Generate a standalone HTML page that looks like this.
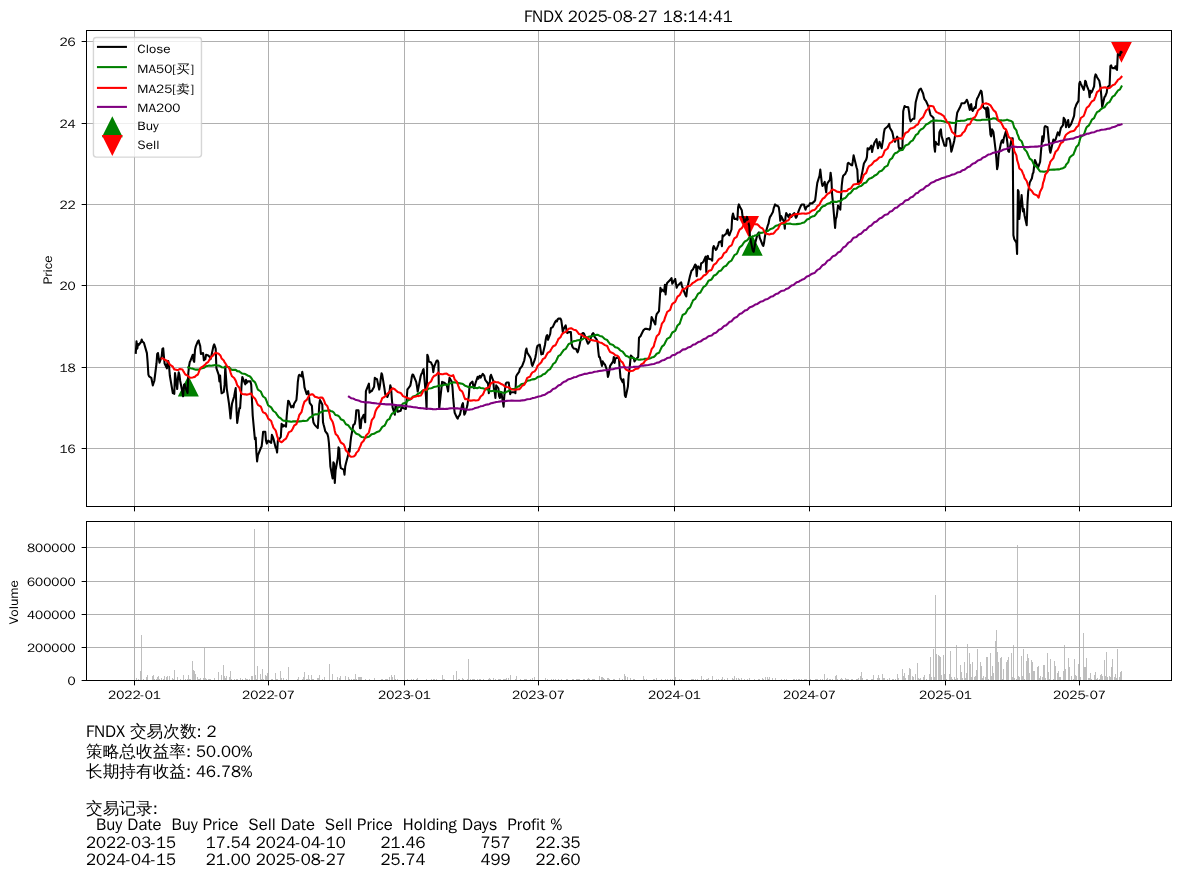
<!DOCTYPE html>
<html><head><meta charset="utf-8"><title>FNDX</title><style>html,body{margin:0;padding:0;background:#fff;overflow:hidden;width:1180px;height:878px}svg{display:block}</style></head><body>
<svg width="1180" height="878" viewBox="0 0 1180 878">
<rect width="1180" height="878" fill="#fff"/>
<defs><clipPath id="c1"><rect x="86.50" y="30.50" width="1085.00" height="476.00"/></clipPath><clipPath id="c2"><rect x="86.50" y="521.50" width="1085.00" height="159.00"/></clipPath></defs>
<g clip-path="url(#c1)">
<path fill="#008000" d="M188.32 375.52L177.82 396.52L198.82 396.52ZM752.20 234.70L741.70 255.70L762.70 255.70Z"/>
<path fill="#ff0000" d="M748.50 236.98L738.00 215.98L759.00 215.98ZM1121.46 62.78L1110.96 41.78L1131.96 41.78Z"/>
<path stroke="#b0b0b0" stroke-width="1" fill="none" d="M134.50 30.50V506.50M268.50 30.50V506.50M404.50 30.50V506.50M538.50 30.50V506.50M674.50 30.50V506.50M809.50 30.50V506.50M945.50 30.50V506.50M1079.50 30.50V506.50M86.50 448.50H1171.50M86.50 367.50H1171.50M86.50 285.50H1171.50M86.50 204.50H1171.50M86.50 123.50H1171.50M86.50 41.50H1171.50"/>
<polyline fill="none" stroke="#000000" stroke-width="2.08" stroke-linejoin="round" stroke-linecap="square" points="135.8,352.8 136.5,341.4 137.3,348.7 138.0,344.1 138.7,345.0 141.0,342.0 141.7,339.6 142.4,341.6 143.2,342.2 143.9,342.8 146.9,353.1 147.6,361.9 148.4,374.7 149.1,376.3 151.3,377.8 152.1,381.8 152.8,385.4 153.5,383.2 154.3,381.0 156.5,363.5 157.2,353.9 158.0,353.1 158.7,357.9 159.5,362.7 161.7,356.3 162.4,349.1 163.2,348.3 163.9,356.3 164.6,363.5 166.9,368.3 167.6,361.1 168.3,361.1 169.1,366.7 169.8,375.5 172.8,393.0 173.5,393.4 174.3,393.8 175.0,373.1 177.2,389.0 178.0,377.8 178.7,372.3 179.4,374.7 180.2,381.0 182.4,392.2 183.1,396.2 183.9,385.0 184.6,384.2 185.4,387.4 187.6,393.0 188.3,373.1 189.1,365.9 189.8,361.9 190.5,360.7 192.8,354.7 193.5,360.3 194.2,361.9 195.0,349.9 195.7,346.7 197.9,341.2 198.7,340.4 199.4,343.6 200.2,345.9 200.9,353.9 203.1,353.1 203.9,360.3 204.6,359.5 205.3,359.2 206.1,354.8 208.3,355.5 209.0,356.2 209.8,357.0 210.5,359.2 211.3,356.2 213.5,345.9 214.2,344.4 215.0,346.6 215.7,348.8 216.4,368.1 218.7,374.8 219.4,381.4 220.1,375.5 220.9,387.3 221.6,393.3 223.8,391.8 224.6,384.4 225.3,366.6 226.1,378.5 226.8,388.8 229.0,403.6 229.8,411.0 230.5,418.4 231.2,411.0 232.0,403.6 234.2,396.2 234.9,392.2 235.7,388.1 236.4,408.1 237.2,422.9 239.4,408.1 240.1,408.1 240.9,396.2 241.6,384.4 242.3,377.0 245.3,384.4 246.0,379.9 246.8,382.9 247.5,381.4 249.7,381.4 250.5,381.4 251.2,384.4 252.0,400.7 252.7,415.5 254.9,439.2 255.7,437.7 256.4,452.5 257.1,461.4 257.9,455.4 260.8,448.0 261.6,446.6 262.3,440.6 263.1,431.8 265.3,431.8 266.0,440.6 266.8,443.6 267.5,442.1 268.2,440.6 271.2,442.9 271.9,434.8 272.7,436.6 273.4,438.5 275.6,447.4 276.4,448.8 277.1,452.5 277.9,440.0 278.6,440.0 280.8,437.0 281.6,423.7 282.3,425.1 283.0,426.6 283.8,425.1 286.0,426.6 286.7,416.3 287.5,407.4 288.2,400.7 289.0,401.5 291.2,407.4 291.9,406.6 292.7,405.9 293.4,407.4 294.1,403.7 296.4,400.0 297.1,392.6 297.8,382.2 298.6,376.3 299.3,374.8 301.5,376.3 302.3,371.8 303.0,376.3 303.8,380.7 304.5,387.4 306.7,394.1 307.5,392.6 308.2,391.1 308.9,395.5 309.7,402.9 311.9,405.9 312.6,416.3 313.4,422.2 314.1,423.7 314.9,425.1 317.8,428.1 318.6,416.3 319.3,404.4 320.0,400.0 322.3,404.4 323.0,422.2 323.7,425.1 324.5,428.1 325.2,431.1 327.4,434.0 328.2,437.0 328.9,442.9 329.7,454.8 330.4,466.6 332.6,478.4 333.4,462.2 334.1,463.6 334.8,482.9 335.6,470.3 337.8,457.7 338.5,447.4 339.3,448.8 340.0,463.6 340.8,468.1 343.7,469.6 344.5,474.7 345.2,466.6 345.9,463.6 348.2,454.8 348.9,448.8 349.6,451.8 350.4,442.9 351.1,437.0 353.3,425.1 354.1,424.4 354.8,423.7 355.6,419.2 356.3,410.3 358.5,410.3 359.3,419.2 360.0,428.1 360.7,428.1 361.5,419.2 363.7,414.8 364.4,418.5 365.2,422.2 365.9,391.1 368.9,383.7 369.6,392.6 370.4,391.8 371.1,391.1 371.8,391.1 374.1,386.7 374.8,377.8 375.5,378.5 377.0,379.2 379.2,389.6 380.0,385.2 380.7,379.2 381.5,373.3 382.2,374.8 384.4,388.1 385.2,394.1 385.9,395.5 386.6,396.3 387.4,397.0 389.6,391.1 390.3,385.2 391.1,388.1 391.8,398.5 392.6,407.4 394.8,414.8 395.5,405.9 396.3,406.6 397.0,407.4 397.7,411.8 400.7,410.8 401.4,407.9 402.2,407.0 402.9,407.9 405.9,408.9 406.6,400.2 407.4,389.5 408.1,388.6 410.3,385.7 411.1,381.8 411.8,376.9 412.5,374.5 413.3,375.0 416.2,381.8 417.0,386.6 417.7,391.5 418.5,387.6 420.7,376.0 421.4,374.0 422.2,373.1 422.9,370.2 423.6,369.2 425.9,395.3 426.6,408.9 427.3,354.7 428.1,356.6 428.8,361.5 431.0,362.4 431.8,364.4 432.5,365.3 433.3,372.1 434.0,367.3 436.2,361.5 437.0,360.5 437.7,360.5 438.4,362.4 439.2,408.9 442.1,381.8 442.9,382.8 443.6,382.3 444.4,382.8 446.6,384.7 447.3,387.6 448.1,391.5 448.8,383.7 449.5,377.9 451.8,381.8 452.5,387.6 453.2,398.2 454.0,407.0 454.7,412.8 456.9,417.6 457.7,418.6 458.4,416.6 459.2,415.7 459.9,414.7 462.1,405.0 462.9,403.1 463.6,408.9 464.3,414.7 465.1,413.5 467.3,405.8 468.0,400.9 468.8,396.1 469.5,386.4 470.3,383.5 472.5,381.6 473.2,385.4 474.0,388.3 474.7,385.9 475.4,383.5 477.7,376.7 478.4,378.7 479.1,376.7 479.9,375.8 480.6,377.7 482.8,373.8 483.6,374.8 484.3,375.8 485.1,379.6 485.8,380.6 488.0,383.5 488.8,393.2 489.5,386.4 490.2,376.7 491.0,374.8 493.2,380.6 493.9,388.3 494.7,392.2 495.4,398.0 496.2,385.4 498.4,388.3 499.1,396.1 499.9,398.0 500.6,396.1 501.3,392.2 503.6,406.7 504.3,396.1 505.0,389.3 505.8,383.5 506.5,382.5 508.7,382.5 509.5,388.3 510.2,394.1 511.0,392.2 511.7,392.2 514.7,392.2 515.4,393.2 516.1,376.7 516.9,374.8 519.1,371.9 519.8,369.0 520.6,368.0 521.3,367.0 522.1,366.1 524.3,360.3 525.0,356.4 525.8,350.6 526.5,348.6 527.2,352.5 530.2,357.4 530.9,359.2 531.7,364.1 532.4,366.0 534.6,360.2 535.4,357.3 536.1,353.4 536.9,347.6 537.6,345.7 539.8,344.7 541.3,354.4 542.0,354.1 542.8,353.9 545.0,344.7 545.7,339.8 546.5,336.0 547.2,335.0 548.0,339.8 550.2,334.0 550.9,328.2 551.7,327.7 552.4,327.3 553.1,326.3 555.4,321.5 556.1,320.5 556.8,321.5 557.6,319.5 558.3,318.6 560.5,318.6 561.3,320.5 562.0,325.3 562.8,332.1 563.5,329.2 565.7,325.3 566.5,330.2 567.2,333.1 567.9,332.6 568.7,332.1 570.9,332.1 571.6,343.7 572.4,346.6 573.1,347.6 573.9,348.6 576.1,349.0 576.8,350.7 577.6,352.4 578.3,350.5 579.0,347.6 581.3,336.9 582.0,334.0 582.7,333.1 583.5,333.1 584.2,334.0 587.2,341.8 587.9,343.7 588.7,342.8 589.4,341.8 591.6,336.0 592.4,334.0 593.1,333.1 593.8,334.0 594.6,336.9 596.8,339.6 597.5,342.2 598.3,351.1 599.0,357.0 599.8,357.0 602.0,365.9 602.7,361.4 603.5,362.9 604.2,363.7 604.9,364.4 607.2,370.7 607.9,377.0 608.6,374.8 609.4,370.3 610.1,365.9 613.1,361.4 613.8,357.0 614.6,362.9 615.3,358.5 617.5,357.7 618.3,357.0 619.0,358.5 619.7,368.8 620.5,377.7 622.7,382.2 623.4,379.2 624.2,386.6 624.9,395.5 625.7,397.0 627.9,386.6 628.6,376.2 629.4,369.6 630.1,362.9 630.8,355.5 633.1,357.7 633.8,358.5 634.5,361.4 635.3,360.0 638.2,357.0 639.0,337.7 639.7,337.0 640.5,336.3 641.2,334.8 643.4,330.3 644.2,329.6 644.9,328.9 646.4,328.9 648.6,329.2 649.3,329.6 650.1,328.9 650.8,324.4 651.6,317.0 653.8,321.5 654.5,322.9 655.3,324.4 656.0,317.0 656.7,314.1 659.0,311.1 659.7,300.3 660.4,287.7 661.2,291.6 661.9,289.6 664.1,291.6 664.9,284.8 665.6,294.5 666.4,285.8 667.1,282.9 670.1,280.0 670.8,279.0 671.5,278.0 672.3,283.8 675.2,279.0 676.0,283.8 676.7,287.7 677.5,285.8 679.7,283.8 680.4,282.9 681.2,282.4 681.9,285.8 682.6,287.7 685.6,295.4 686.3,296.4 687.1,289.6 687.8,285.8 690.0,276.1 690.8,273.2 691.5,270.8 692.3,270.0 693.0,269.3 695.2,264.5 696.0,265.4 696.7,276.1 697.4,268.3 698.2,266.4 700.4,269.3 701.1,263.5 701.9,263.0 702.6,262.5 703.4,261.6 705.6,256.7 706.3,272.2 707.1,256.7 707.8,255.8 708.5,258.7 711.5,259.6 712.2,260.6 713.0,248.0 713.7,246.1 715.9,249.9 716.7,249.0 717.4,247.0 718.2,245.1 718.9,242.2 721.1,241.2 721.9,246.1 722.6,235.4 723.3,236.4 724.1,235.4 726.3,233.4 727.0,230.5 727.8,229.5 728.5,234.4 729.3,235.3 731.5,229.5 732.2,216.9 733.0,213.6 733.7,216.2 734.4,218.9 736.7,218.9 737.4,219.8 738.1,207.3 738.9,204.4 739.6,206.3 741.8,210.2 742.6,216.9 743.3,216.9 744.1,220.8 744.8,222.8 747.0,216.9 747.8,219.8 748.5,223.7 749.2,225.7 750.0,237.3 752.2,247.9 752.9,250.8 753.7,251.8 754.4,247.9 755.2,243.1 757.4,234.4 758.1,233.4 758.9,232.4 759.6,237.3 760.3,239.2 762.6,245.0 763.3,246.0 764.0,243.1 764.8,237.3 765.5,233.4 767.7,225.7 768.5,223.7 769.2,219.8 770.0,216.9 770.7,216.0 772.9,212.1 773.7,208.2 774.4,206.3 775.1,204.4 775.9,205.3 778.1,206.3 778.8,207.3 779.6,213.1 780.3,220.8 781.1,216.0 784.0,221.8 784.8,228.6 785.5,216.9 786.2,213.1 788.5,216.9 789.2,215.0 789.9,214.0 790.7,215.7 791.4,216.8 793.6,213.7 794.4,213.2 795.1,215.7 795.9,217.8 796.6,216.8 798.8,210.6 799.6,208.6 801.0,205.5 801.8,204.5 804.0,204.5 804.7,207.5 805.5,209.6 806.2,207.5 807.0,206.5 809.2,205.5 809.9,203.4 810.7,203.4 812.1,203.4 814.4,201.4 815.1,200.4 815.8,195.2 816.6,188.1 817.3,182.9 819.5,175.8 820.3,169.6 821.0,175.8 821.8,182.9 822.5,186.0 824.7,181.9 825.5,188.1 826.2,192.2 826.9,185.0 827.7,182.9 829.9,179.9 830.6,172.7 831.4,178.8 832.1,194.2 832.9,202.4 835.1,228.0 835.8,218.8 836.6,216.8 837.3,211.6 838.0,205.5 840.3,209.6 841.0,198.3 841.7,186.0 842.5,178.8 843.2,175.8 845.4,173.7 846.2,171.7 846.9,170.6 847.7,163.5 848.4,162.9 850.6,164.5 851.4,165.0 852.1,165.5 852.8,161.4 853.6,155.3 856.5,167.3 857.3,169.8 858.0,182.6 858.8,183.9 861.0,178.8 861.7,175.0 862.5,171.1 863.2,167.3 863.9,163.5 866.2,159.6 866.9,157.1 867.6,148.2 868.4,148.8 869.1,149.4 871.3,145.6 872.1,152.0 872.8,148.2 873.6,145.6 874.3,143.1 876.5,139.2 877.3,144.3 878.0,148.2 878.7,145.6 879.5,141.8 881.7,148.2 882.4,143.7 883.2,139.2 883.9,132.9 884.7,129.0 887.6,126.5 888.4,125.2 889.1,123.9 889.8,127.8 892.1,131.6 892.8,134.1 893.5,138.0 894.3,139.9 895.0,141.8 897.2,136.7 898.0,138.0 898.7,146.9 899.5,149.4 900.2,148.2 902.4,149.4 903.2,111.2 903.9,108.6 904.6,106.1 905.4,106.7 908.3,107.3 909.1,112.4 909.8,118.8 910.6,121.4 912.8,118.8 913.5,118.8 914.3,118.8 915.0,109.9 915.7,102.2 918.0,93.3 918.7,91.5 919.4,89.6 920.9,88.6 923.1,93.5 923.9,97.4 924.6,99.3 925.4,100.3 926.1,101.2 928.3,106.1 929.1,109.0 929.8,111.9 930.5,114.8 931.3,115.8 933.5,117.7 934.2,145.8 935.0,151.6 935.7,141.9 936.5,143.8 938.7,144.8 939.4,132.2 940.9,129.3 941.6,136.1 943.9,143.8 944.6,145.8 946.1,145.8 946.8,139.0 949.0,138.0 949.8,140.0 950.5,143.8 951.3,151.6 952.0,149.6 954.2,140.9 955.0,136.1 955.7,126.4 956.4,118.7 957.2,112.8 960.1,107.0 960.9,105.1 961.6,103.2 962.4,103.2 964.6,103.2 965.3,102.2 966.1,101.2 966.8,99.8 967.5,101.2 969.8,109.9 970.5,105.1 971.2,104.1 972.0,109.9 972.7,110.9 974.9,107.0 975.7,108.0 976.4,101.2 977.2,98.3 977.9,97.4 980.9,90.6 981.6,91.6 982.3,97.4 983.1,107.0 985.3,109.1 986.0,108.2 986.8,117.3 987.5,107.3 988.3,109.1 990.5,134.6 991.2,136.4 992.0,129.2 992.7,130.5 993.4,131.9 995.7,151.0 996.4,159.2 997.1,169.2 997.9,165.6 998.6,154.7 1000.8,143.7 1001.6,141.0 1002.3,140.1 1003.1,142.8 1003.8,138.3 1006.0,131.0 1006.8,138.3 1007.5,143.7 1008.2,151.0 1009.0,151.9 1011.2,141.0 1011.9,138.3 1012.7,138.3 1013.4,235.2 1014.2,239.0 1016.4,242.7 1017.1,254.0 1017.9,190.1 1018.6,191.4 1019.3,218.9 1021.6,195.1 1022.3,202.6 1023.0,211.4 1023.8,208.9 1024.5,215.2 1026.7,225.2 1027.5,202.6 1028.2,191.4 1029.0,187.0 1029.7,182.6 1031.9,178.2 1032.7,173.8 1033.4,172.6 1034.1,166.3 1034.9,160.0 1037.1,165.1 1037.8,168.2 1038.6,166.1 1039.3,164.1 1040.1,162.0 1042.3,136.4 1043.0,141.5 1043.8,137.4 1044.5,127.2 1045.2,126.1 1047.5,127.2 1048.2,134.3 1048.9,141.5 1049.7,149.7 1050.4,152.8 1053.4,139.5 1054.1,141.5 1054.9,140.5 1055.6,139.5 1057.8,132.3 1058.6,133.3 1059.3,135.4 1060.0,131.8 1060.8,128.2 1063.0,125.1 1063.7,117.9 1064.5,119.0 1065.2,120.0 1066.0,127.2 1068.2,120.0 1068.9,127.2 1069.7,126.1 1071.1,124.1 1073.4,117.9 1074.1,115.9 1074.8,108.7 1075.6,106.7 1076.3,104.6 1078.5,100.9 1079.3,83.6 1080.0,81.7 1080.8,83.6 1083.7,89.9 1084.5,86.3 1085.2,80.8 1085.9,81.7 1086.7,85.4 1088.9,90.8 1089.6,97.2 1090.4,90.8 1091.1,92.7 1091.9,91.8 1094.1,86.3 1094.8,77.2 1095.6,74.4 1096.3,75.4 1097.0,77.2 1099.3,80.8 1100.0,84.5 1100.7,89.0 1101.5,98.1 1102.2,107.2 1104.4,97.2 1105.2,96.3 1105.9,94.5 1106.7,92.7 1107.4,87.2 1109.6,85.4 1110.4,66.2 1111.1,65.3 1111.8,67.2 1112.6,68.1 1114.8,68.1 1115.5,66.2 1116.3,69.0 1117.0,69.9 1117.8,54.4 1120.0,55.3 1120.7,51.7 1121.5,52.3"/>
<polyline fill="none" stroke="#008000" stroke-width="2.08" stroke-linejoin="round" stroke-linecap="square" points="188.3,367.4 189.1,367.7 189.8,368.1 190.5,368.3 192.8,368.6 193.5,368.9 194.2,369.3 195.0,369.5 195.7,369.6 197.9,369.6 198.7,369.5 199.4,369.3 200.2,369.0 200.9,368.6 203.1,368.1 203.9,367.8 204.6,367.3 205.3,366.8 206.1,366.2 208.3,365.7 209.0,365.6 209.8,365.6 210.5,365.8 211.3,365.7 213.5,365.4 214.2,365.2 215.0,365.1 215.7,365.1 216.4,365.3 218.7,365.6 219.4,365.8 220.1,366.1 220.9,366.6 221.6,367.2 223.8,367.5 224.6,367.3 225.3,366.8 226.1,366.5 226.8,366.8 229.0,367.1 229.8,367.8 230.5,368.7 231.2,369.4 232.0,369.9 234.2,369.9 234.9,369.9 235.7,369.9 236.4,370.4 237.2,371.1 239.4,371.4 240.1,372.1 240.9,372.7 241.6,373.2 242.3,373.5 245.3,374.1 246.0,374.5 246.8,374.9 247.5,375.5 249.7,376.2 250.5,377.0 251.2,377.9 252.0,379.1 252.7,380.4 254.9,382.1 255.7,383.8 256.4,385.7 257.1,387.7 257.9,389.6 260.8,391.5 261.6,393.3 262.3,395.0 263.1,396.5 265.3,398.0 266.0,399.7 266.8,401.6 267.5,403.6 268.2,405.4 271.2,407.3 271.9,408.7 272.7,409.9 273.4,411.0 275.6,412.5 276.4,413.7 277.1,414.9 277.9,415.9 278.6,417.0 280.8,418.4 281.6,419.3 282.3,420.0 283.0,420.5 283.8,420.7 286.0,420.9 286.7,421.0 287.5,421.1 288.2,421.2 289.0,421.4 291.2,421.7 291.9,421.7 292.7,421.4 293.4,421.4 294.1,421.3 296.4,421.4 297.1,421.5 297.8,421.6 298.6,421.5 299.3,421.4 301.5,421.2 302.3,421.0 303.0,420.9 303.8,420.9 304.5,421.0 306.7,420.8 307.5,420.4 308.2,419.4 308.9,418.6 309.7,417.6 311.9,416.5 312.6,415.7 313.4,415.2 314.1,414.7 314.9,414.4 317.8,414.3 318.6,414.0 319.3,413.3 320.0,412.4 322.3,411.7 323.0,411.3 323.7,411.0 324.5,410.8 325.2,410.7 327.4,410.6 328.2,410.4 328.9,410.3 329.7,410.3 330.4,410.9 332.6,411.6 333.4,412.1 334.1,412.9 334.8,414.1 335.6,415.0 337.8,415.6 338.5,416.0 339.3,416.7 340.0,417.8 340.8,419.2 343.7,420.5 344.5,421.9 345.2,423.1 345.9,424.2 348.2,425.2 348.9,426.1 349.6,427.1 350.4,428.1 351.1,429.2 353.3,430.2 354.1,431.2 354.8,432.1 355.6,433.1 356.3,433.8 358.5,434.4 359.3,435.0 360.0,435.7 360.7,436.4 361.5,436.9 363.7,437.3 364.4,437.6 365.2,438.0 365.9,437.5 368.9,436.7 369.6,436.1 370.4,435.4 371.1,434.7 371.8,434.2 374.1,433.8 374.8,433.4 375.5,432.8 377.0,432.0 379.2,431.3 380.0,430.4 380.7,429.4 381.5,428.2 382.2,426.9 384.4,425.8 385.2,424.6 385.9,423.2 386.6,421.5 387.4,420.2 389.6,418.8 390.3,416.8 391.1,415.2 391.8,414.0 392.6,413.2 394.8,412.5 395.5,411.4 396.3,410.1 397.0,408.9 397.7,407.6 400.7,406.5 401.4,405.4 402.2,404.5 402.9,403.6 405.9,402.8 406.6,401.9 407.4,401.0 408.1,400.2 410.3,399.5 411.1,398.6 411.8,397.8 412.5,397.1 413.3,396.4 416.2,395.6 417.0,394.8 417.7,394.1 418.5,393.4 420.7,392.6 421.4,391.8 422.2,390.8 422.9,390.4 423.6,390.1 425.9,390.1 426.6,390.5 427.3,389.7 428.1,389.0 428.8,388.5 431.0,388.2 431.8,388.0 432.5,387.7 433.3,387.3 434.0,387.0 436.2,386.6 437.0,386.4 437.7,386.1 438.4,385.6 439.2,385.8 442.1,385.6 442.9,385.3 443.6,385.0 444.4,384.8 446.6,384.8 447.3,384.8 448.1,384.7 448.8,384.2 449.5,383.5 451.8,383.0 452.5,382.6 453.2,382.4 454.0,382.3 454.7,382.4 456.9,382.6 457.7,382.8 458.4,383.0 459.2,383.1 459.9,383.4 462.1,383.7 462.9,384.0 463.6,384.5 464.3,385.1 465.1,385.8 467.3,386.5 468.0,387.0 468.8,387.3 469.5,387.3 470.3,387.1 472.5,387.0 473.2,387.2 474.0,387.5 474.7,387.7 475.4,388.0 477.7,388.1 478.4,387.8 479.1,387.2 479.9,387.6 480.6,388.0 482.8,388.3 483.6,388.5 484.3,388.7 485.1,389.0 485.8,389.2 488.0,389.5 488.8,390.1 489.5,390.7 490.2,391.0 491.0,391.2 493.2,390.7 493.9,390.8 494.7,391.0 495.4,391.3 496.2,391.4 498.4,391.4 499.1,391.6 499.9,391.7 500.6,392.0 501.3,392.3 503.6,392.8 504.3,392.9 505.0,392.8 505.8,392.3 506.5,391.7 508.7,391.0 509.5,390.4 510.2,389.9 511.0,389.5 511.7,389.0 514.7,388.7 515.4,388.6 516.1,387.9 516.9,387.1 519.1,386.3 519.8,385.5 520.6,384.9 521.3,384.3 522.1,383.9 524.3,383.4 525.0,382.9 525.8,382.2 526.5,381.4 527.2,380.8 530.2,380.2 530.9,379.9 531.7,379.6 532.4,379.4 534.6,379.1 535.4,378.7 536.1,378.3 536.9,377.7 537.6,377.1 539.8,376.4 541.3,375.9 542.0,375.3 542.8,374.5 545.0,373.7 545.7,372.9 546.5,372.2 547.2,371.3 548.0,370.3 550.2,369.1 550.9,367.7 551.7,366.6 552.4,365.4 553.1,364.0 555.4,362.4 556.1,360.9 556.8,359.5 557.6,357.8 558.3,356.2 560.5,354.8 561.3,353.5 562.0,352.4 562.8,351.4 563.5,350.2 565.7,348.8 566.5,347.6 567.2,346.4 567.9,345.2 568.7,344.0 570.9,343.1 571.6,342.5 572.4,342.0 573.1,341.5 573.9,341.1 576.1,340.8 576.8,340.5 577.6,340.3 578.3,340.2 579.0,340.1 581.3,339.9 582.0,339.5 582.7,339.1 583.5,338.5 584.2,337.9 587.2,337.4 587.9,337.1 588.7,336.8 589.4,336.6 591.6,336.4 592.4,336.1 593.1,335.9 593.8,335.5 594.6,335.2 596.8,334.9 597.5,334.8 598.3,335.0 599.0,335.5 599.8,335.9 602.0,336.4 602.7,337.0 603.5,337.7 604.2,338.4 604.9,339.1 607.2,340.0 607.9,341.1 608.6,342.2 609.4,343.2 610.1,344.1 613.1,345.0 613.8,345.7 614.6,346.6 615.3,347.2 617.5,347.8 618.3,348.3 619.0,349.0 619.7,349.8 620.5,350.6 622.7,351.6 623.4,352.6 624.2,353.7 624.9,354.7 625.7,355.7 627.9,356.5 628.6,357.0 629.4,357.5 630.1,357.7 630.8,357.8 633.1,357.9 633.8,358.1 634.5,358.6 635.3,359.1 638.2,359.6 639.0,359.7 639.7,359.8 640.5,359.6 641.2,359.5 643.4,359.2 644.2,359.0 644.9,358.8 646.4,358.7 648.6,358.7 649.3,358.6 650.1,358.4 650.8,358.1 651.6,357.6 653.8,357.0 654.5,356.3 655.3,355.7 656.0,354.7 656.7,353.7 659.0,352.7 659.7,351.4 660.4,349.9 661.2,348.3 661.9,346.6 664.1,344.9 664.9,343.2 665.6,341.8 666.4,340.3 667.1,338.8 670.1,337.1 670.8,335.5 671.5,333.9 672.3,332.5 675.2,330.9 676.0,329.2 676.7,327.4 677.5,325.5 679.7,323.6 680.4,321.5 681.2,319.2 681.9,317.0 682.6,315.0 685.6,313.4 686.3,311.9 687.1,310.5 687.8,309.1 690.0,307.4 690.8,305.7 691.5,303.9 692.3,302.1 693.0,300.4 695.2,298.9 696.0,297.5 696.7,296.3 697.4,294.9 698.2,293.7 700.4,292.5 701.1,291.1 701.9,289.8 702.6,288.5 703.4,287.1 705.6,285.7 706.3,284.6 707.1,283.4 707.8,282.1 708.5,280.8 711.5,279.5 712.2,278.4 713.0,277.1 713.7,275.8 715.9,274.8 716.7,274.0 717.4,273.1 718.2,272.2 718.9,271.2 721.1,270.4 721.9,269.4 722.6,268.4 723.3,267.5 724.1,266.6 726.3,265.7 727.0,264.7 727.8,263.6 728.5,262.7 729.3,261.8 731.5,260.6 732.2,259.2 733.0,257.8 733.7,256.5 734.4,255.2 736.7,253.9 737.4,252.5 738.1,250.8 738.9,248.9 739.6,247.3 741.8,245.7 742.6,244.6 743.3,243.4 744.1,242.4 744.8,241.5 747.0,240.4 747.8,239.6 748.5,238.7 749.2,237.7 750.0,237.1 752.2,236.7 752.9,236.4 753.7,236.1 754.4,235.8 755.2,235.4 757.4,234.9 758.1,234.4 758.9,233.6 759.6,233.2 760.3,232.9 762.6,232.6 763.3,232.4 764.0,232.0 764.8,231.8 765.5,231.5 767.7,231.1 768.5,230.5 769.2,230.0 770.0,229.4 770.7,228.9 772.9,228.3 773.7,227.6 774.4,227.0 775.1,226.4 775.9,225.8 778.1,225.2 778.8,224.7 779.6,224.4 780.3,224.1 781.1,223.8 784.0,223.6 784.8,223.8 785.5,223.9 786.2,223.8 788.5,223.8 789.2,223.7 789.9,223.6 790.7,223.8 791.4,224.0 793.6,224.2 794.4,224.2 795.1,224.2 795.9,224.2 796.6,224.1 798.8,223.9 799.6,223.7 801.0,223.4 801.8,223.1 804.0,222.6 804.7,222.0 805.5,221.3 806.2,220.4 807.0,219.5 809.2,218.7 809.9,217.9 810.7,217.2 812.1,216.6 814.4,216.0 815.1,215.3 815.8,214.4 816.6,213.3 817.3,212.0 819.5,210.7 820.3,209.3 821.0,208.1 821.8,207.3 822.5,206.5 824.7,205.8 825.5,205.2 826.2,204.7 826.9,204.2 827.7,203.7 829.9,203.1 830.6,202.5 831.4,202.0 832.1,201.7 832.9,201.6 835.1,201.9 835.8,201.9 836.6,201.9 837.3,201.7 838.0,201.3 840.3,201.1 841.0,200.8 841.7,200.2 842.5,199.5 843.2,198.7 845.4,197.9 846.2,197.0 846.9,196.1 847.7,195.1 848.4,194.0 850.6,193.0 851.4,191.9 852.1,191.0 852.8,190.1 853.6,189.1 856.5,188.4 857.3,187.7 858.0,187.2 858.8,186.6 861.0,186.1 861.7,185.4 862.5,184.8 863.2,184.0 863.9,183.2 866.2,182.4 866.9,181.5 867.6,180.4 868.4,179.5 869.1,178.7 871.3,178.0 872.1,177.5 872.8,177.1 873.6,176.5 874.3,175.7 876.5,174.7 877.3,174.0 878.0,173.2 878.7,172.3 879.5,171.4 881.7,170.7 882.4,170.0 883.2,169.3 883.9,168.4 884.7,167.1 887.6,165.6 888.4,163.5 889.1,161.6 889.8,159.8 892.1,158.2 892.8,156.8 893.5,155.4 894.3,154.2 895.0,153.3 897.2,152.5 898.0,151.7 898.7,151.2 899.5,150.7 900.2,150.3 902.4,150.0 903.2,149.0 903.9,147.9 904.6,146.7 905.4,145.5 908.3,144.4 909.1,143.6 909.8,142.6 910.6,141.6 912.8,140.4 913.5,139.1 914.3,137.9 915.0,136.6 915.7,135.2 918.0,133.7 918.7,132.3 919.4,130.9 920.9,129.5 923.1,128.4 923.9,127.4 924.6,126.4 925.4,125.5 926.1,124.4 928.3,123.6 929.1,122.9 929.8,122.2 930.5,121.8 931.3,121.2 933.5,120.6 934.2,120.6 935.0,120.8 935.7,120.6 936.5,120.6 938.7,120.8 939.4,120.7 940.9,120.8 941.6,120.9 943.9,121.3 944.6,121.8 946.1,122.1 946.8,122.3 949.0,122.3 949.8,122.4 950.5,122.5 951.3,122.7 952.0,122.9 954.2,123.0 955.0,122.8 955.7,122.3 956.4,121.7 957.2,121.0 960.1,120.9 960.9,120.8 961.6,120.8 962.4,120.7 964.6,120.6 965.3,120.4 966.1,120.1 966.8,119.6 967.5,119.3 969.8,119.1 970.5,118.8 971.2,118.7 972.0,118.9 972.7,119.2 974.9,119.5 975.7,119.9 976.4,120.1 977.2,120.2 977.9,120.2 980.9,120.1 981.6,119.9 982.3,119.8 983.1,119.8 985.3,119.8 986.0,119.8 986.8,119.8 987.5,119.6 988.3,119.5 990.5,119.2 991.2,118.9 992.0,118.7 992.7,118.4 993.4,118.2 995.7,118.5 996.4,119.1 997.1,119.8 997.9,120.2 998.6,120.4 1000.8,120.4 1001.6,120.4 1002.3,120.5 1003.1,120.5 1003.8,120.4 1006.0,120.0 1006.8,119.8 1007.5,119.8 1008.2,120.1 1009.0,120.6 1011.2,121.1 1011.9,121.6 1012.7,122.2 1013.4,124.8 1014.2,127.5 1016.4,130.3 1017.1,133.3 1017.9,135.1 1018.6,136.9 1019.3,139.3 1021.6,141.2 1022.3,143.0 1023.0,145.1 1023.8,147.2 1024.5,149.3 1026.7,151.6 1027.5,153.5 1028.2,155.2 1029.0,156.9 1029.7,158.6 1031.9,160.2 1032.7,161.9 1033.4,163.5 1034.1,164.9 1034.9,165.9 1037.1,167.1 1037.8,168.3 1038.6,169.2 1039.3,170.4 1040.1,171.4 1042.3,171.5 1043.0,171.6 1043.8,171.7 1044.5,171.7 1045.2,171.5 1047.5,171.1 1048.2,170.6 1048.9,170.0 1049.7,169.7 1050.4,169.7 1053.4,169.6 1054.1,169.6 1054.9,169.6 1055.6,169.5 1057.8,169.4 1058.6,169.4 1059.3,169.4 1060.0,169.1 1060.8,168.7 1063.0,168.2 1063.7,167.7 1064.5,167.3 1065.2,166.9 1066.0,164.8 1068.2,162.4 1068.9,160.1 1069.7,157.5 1071.1,156.2 1073.4,154.7 1074.1,152.7 1074.8,151.0 1075.6,149.0 1076.3,146.9 1078.5,144.7 1079.3,142.1 1080.0,139.2 1080.8,136.9 1083.7,134.8 1084.5,132.8 1085.2,130.8 1085.9,128.8 1086.7,127.1 1088.9,125.4 1089.6,124.1 1090.4,122.7 1091.1,121.2 1091.9,119.7 1094.1,118.1 1094.8,116.4 1095.6,114.6 1096.3,113.4 1097.0,112.1 1099.3,111.0 1100.0,110.1 1100.7,109.4 1101.5,108.8 1102.2,108.3 1104.4,107.4 1105.2,106.3 1105.9,105.1 1106.7,104.2 1107.4,103.1 1109.6,102.0 1110.4,100.6 1111.1,99.2 1111.8,97.9 1112.6,96.6 1114.8,95.3 1115.5,94.0 1116.3,92.9 1117.0,92.0 1117.8,90.7 1120.0,89.4 1120.7,87.9 1121.5,86.5"/>
<polyline fill="none" stroke="#ff0000" stroke-width="2.08" stroke-linejoin="round" stroke-linecap="square" points="161.7,358.5 162.4,358.4 163.2,358.6 163.9,358.9 164.6,359.7 166.9,360.7 167.6,361.4 168.3,362.3 169.1,363.3 169.8,364.6 172.8,366.6 173.5,368.2 174.3,369.5 175.0,369.4 177.2,370.0 178.0,370.0 178.7,369.6 179.4,369.1 180.2,369.1 182.4,369.5 183.1,370.8 183.9,372.1 184.6,373.3 185.4,374.5 187.6,375.7 188.3,376.4 189.1,377.0 189.8,377.6 190.5,377.8 192.8,377.4 193.5,377.1 194.2,377.1 195.0,376.7 195.7,375.9 197.9,374.5 198.7,372.4 199.4,370.4 200.2,368.5 200.9,367.7 203.1,366.3 203.9,365.6 204.6,365.1 205.3,364.5 206.1,363.4 208.3,361.9 209.0,360.3 209.8,359.2 210.5,358.2 211.3,357.0 213.5,355.1 214.2,353.9 215.0,353.2 215.7,352.6 216.4,352.9 218.7,353.7 219.4,354.6 220.1,355.1 220.9,356.6 221.6,358.5 223.8,360.5 224.6,362.3 225.3,363.2 226.1,364.5 226.8,365.9 229.0,367.9 229.8,369.9 230.5,372.3 231.2,374.4 232.0,376.3 234.2,378.0 234.9,379.4 235.7,380.6 236.4,382.6 237.2,385.3 239.4,387.7 240.1,390.3 240.9,392.3 241.6,393.7 242.3,394.0 245.3,394.4 246.0,394.4 246.8,394.7 247.5,394.4 249.7,394.0 250.5,393.5 251.2,393.5 252.0,394.9 252.7,396.4 254.9,398.4 255.7,399.8 256.4,401.4 257.1,403.1 257.9,404.9 260.8,406.7 261.6,408.7 262.3,410.6 263.1,412.4 265.3,413.3 266.0,414.1 266.8,415.5 267.5,416.8 268.2,418.6 271.2,421.0 271.9,423.3 272.7,425.4 273.4,427.7 275.6,430.3 276.4,433.0 277.1,435.8 277.9,438.2 278.6,440.4 280.8,441.8 281.6,442.2 282.3,441.6 283.0,441.2 283.8,440.1 286.0,438.7 286.7,437.1 287.5,435.5 288.2,433.6 289.0,432.1 291.2,431.1 291.9,430.1 292.7,428.7 293.4,427.3 294.1,425.7 296.4,424.1 297.1,422.1 297.8,420.0 298.6,417.6 299.3,415.0 301.5,412.2 302.3,409.1 303.0,406.0 303.8,403.7 304.5,401.6 306.7,399.9 307.5,398.6 308.2,397.3 308.9,396.0 309.7,395.1 311.9,394.3 312.6,394.3 313.4,394.9 314.1,395.8 314.9,396.7 317.8,397.6 318.6,398.0 319.3,397.9 320.0,397.6 322.3,397.6 323.0,398.5 323.7,399.8 324.5,401.7 325.2,403.9 327.4,406.2 328.2,408.7 328.9,411.5 329.7,414.6 330.4,418.1 332.6,421.7 333.4,424.4 334.1,427.3 334.8,431.0 335.6,433.9 337.8,436.1 338.5,437.8 339.3,439.1 340.0,440.8 340.8,442.5 343.7,444.3 344.5,446.2 345.2,448.2 345.9,450.6 348.2,452.7 348.9,454.5 349.6,455.7 350.4,456.4 351.1,456.8 353.3,456.5 354.1,456.2 354.8,455.6 355.6,454.7 356.3,452.9 358.5,450.6 359.3,448.3 360.0,446.9 360.7,445.5 361.5,442.9 363.7,440.7 364.4,439.2 365.2,438.1 365.9,435.8 368.9,432.6 369.6,429.6 370.4,426.5 371.1,423.2 371.8,420.1 374.1,417.1 374.8,414.0 375.5,411.2 377.0,408.3 379.2,406.1 380.0,404.1 380.7,402.2 381.5,400.2 382.2,398.2 384.4,397.0 385.2,396.3 385.9,395.7 386.6,394.8 387.4,393.6 389.6,392.1 390.3,390.7 391.1,389.7 391.8,388.9 392.6,388.3 394.8,389.2 395.5,390.1 396.3,390.7 397.0,391.3 397.7,392.1 400.7,392.9 401.4,393.8 402.2,394.9 402.9,396.1 405.9,397.3 406.6,397.7 407.4,397.9 408.1,398.3 410.3,398.8 411.1,399.0 411.8,398.6 412.5,397.8 413.3,397.0 416.2,396.4 417.0,396.0 417.7,396.0 418.5,396.1 420.7,395.6 421.4,394.6 422.2,393.3 422.9,391.5 423.6,390.0 425.9,389.6 426.6,389.6 427.3,387.3 428.1,385.2 428.8,383.3 431.0,381.5 431.8,379.8 432.5,378.0 433.3,376.9 434.0,376.0 436.2,375.0 437.0,373.9 437.7,373.1 438.4,372.5 439.2,373.9 442.1,374.2 442.9,374.2 443.6,374.0 444.4,373.7 446.6,373.6 447.3,374.0 448.1,374.7 448.8,375.1 449.5,375.5 451.8,376.0 452.5,375.6 453.2,375.2 454.0,377.3 454.7,379.6 456.9,381.8 457.7,384.1 458.4,386.1 459.2,388.2 459.9,389.9 462.1,391.4 462.9,393.0 463.6,395.0 464.3,397.1 465.1,399.2 467.3,399.1 468.0,399.8 468.8,400.4 469.5,400.5 470.3,400.6 472.5,400.4 473.2,400.3 474.0,400.2 474.7,400.3 475.4,400.5 477.7,400.3 478.4,400.0 479.1,399.1 479.9,397.9 480.6,396.5 482.8,394.7 483.6,393.0 484.3,391.3 485.1,389.9 485.8,388.5 488.0,387.6 488.8,387.3 489.5,386.4 490.2,384.8 491.0,383.3 493.2,382.3 493.9,381.8 494.7,381.6 495.4,382.1 496.2,382.2 498.4,382.4 499.1,382.9 499.9,383.2 500.6,383.7 501.3,384.0 503.6,385.2 504.3,385.9 505.0,386.4 505.8,386.7 506.5,386.9 508.7,387.3 509.5,387.8 510.2,388.5 511.0,389.0 511.7,389.5 514.7,389.8 515.4,389.8 516.1,389.5 516.9,389.4 519.1,389.3 519.8,388.8 520.6,388.0 521.3,387.0 522.1,385.7 524.3,384.7 525.0,383.4 525.8,381.6 526.5,379.6 527.2,377.9 530.2,376.5 530.9,374.6 531.7,373.3 532.4,372.4 534.6,371.4 535.4,370.4 536.1,369.3 536.9,367.6 537.6,365.7 539.8,363.8 541.3,362.3 542.0,360.8 542.8,359.2 545.0,357.9 545.7,356.5 546.5,355.1 547.2,353.7 548.0,352.6 550.2,351.3 550.9,349.8 551.7,348.5 552.4,347.3 553.1,346.3 555.4,345.2 556.1,343.9 556.8,342.5 557.6,340.9 558.3,339.1 560.5,337.2 561.3,335.6 562.0,334.3 562.8,333.5 563.5,332.8 565.7,331.9 566.5,331.4 567.2,330.5 567.9,329.6 568.7,328.8 570.9,328.3 571.6,328.4 572.4,328.9 573.1,329.4 573.9,329.7 576.1,330.3 576.8,331.2 577.6,332.2 578.3,333.1 579.0,334.0 581.3,334.6 582.0,335.1 582.7,335.6 583.5,336.1 584.2,336.8 587.2,337.7 587.9,338.6 588.7,339.3 589.4,339.7 591.6,340.0 592.4,340.3 593.1,340.4 593.8,340.5 594.6,340.7 596.8,341.0 597.5,341.4 598.3,341.6 599.0,342.1 599.8,342.4 602.0,343.1 602.7,343.6 603.5,344.1 604.2,344.6 604.9,345.1 607.2,346.0 607.9,347.6 608.6,349.3 609.4,350.8 610.1,352.1 613.1,353.2 613.8,353.8 614.6,354.5 615.3,355.2 617.5,355.8 618.3,356.7 619.0,357.6 619.7,359.1 620.5,360.8 622.7,362.6 623.4,364.2 624.2,366.0 624.9,367.8 625.7,369.4 627.9,370.5 628.6,371.0 629.4,371.3 630.1,371.3 630.8,371.0 633.1,370.7 633.8,370.2 634.5,369.6 635.3,369.0 638.2,368.5 639.0,367.3 639.7,366.3 640.5,365.5 641.2,364.4 643.4,363.3 644.2,362.1 644.9,361.0 646.4,359.8 648.6,358.2 649.3,356.3 650.1,354.2 650.8,352.0 651.6,349.2 653.8,346.3 654.5,343.3 655.3,340.8 656.0,338.4 656.7,336.2 659.0,334.1 659.7,331.9 660.4,329.1 661.2,326.5 661.9,323.6 664.1,320.9 664.9,318.0 665.6,316.2 666.4,314.2 667.1,312.0 670.1,309.9 670.8,307.8 671.5,305.7 672.3,303.9 675.2,301.9 676.0,300.1 676.7,298.4 677.5,296.7 679.7,295.1 680.4,293.7 681.2,292.2 681.9,290.7 682.6,289.2 685.6,288.4 686.3,287.6 687.1,286.8 687.8,286.2 690.0,285.7 690.8,285.0 691.5,284.3 692.3,283.4 693.0,282.8 695.2,281.6 696.0,280.8 696.7,280.5 697.4,280.0 698.2,279.5 700.4,279.2 701.1,278.4 701.9,277.7 702.6,276.9 703.4,275.8 705.6,274.7 706.3,274.2 707.1,273.2 707.8,272.1 708.5,271.0 711.5,269.9 712.2,268.5 713.0,266.5 713.7,264.8 715.9,263.4 716.7,262.3 717.4,261.2 718.2,260.2 718.9,259.1 721.1,258.0 721.9,257.2 722.6,256.0 723.3,254.5 724.1,253.1 726.3,251.8 727.0,250.3 727.8,248.9 728.5,247.8 729.3,246.7 731.5,245.4 732.2,243.8 733.0,241.5 733.7,239.8 734.4,238.4 736.7,236.8 737.4,235.2 738.1,233.0 738.9,231.3 739.6,229.7 741.8,228.1 742.6,226.8 743.3,225.6 744.1,224.7 744.8,223.9 747.0,222.9 747.8,221.9 748.5,221.4 749.2,221.0 750.0,221.0 752.2,221.6 752.9,222.4 753.7,223.3 754.4,223.9 755.2,224.2 757.4,224.4 758.1,225.0 758.9,225.8 759.6,226.6 760.3,227.4 762.6,228.5 763.3,229.5 764.0,231.0 764.8,232.3 765.5,233.4 767.7,234.0 768.5,234.3 769.2,234.4 770.0,234.2 770.7,233.9 772.9,233.8 773.7,233.3 774.4,232.6 775.1,231.7 775.9,230.5 778.1,228.8 778.8,227.1 779.6,225.5 780.3,224.4 781.1,223.3 784.0,222.8 784.8,222.6 785.5,222.0 786.2,221.1 788.5,220.2 789.2,219.0 789.9,217.7 790.7,216.6 791.4,215.8 793.6,215.0 794.4,214.5 795.1,214.2 795.9,214.1 796.6,214.1 798.8,213.9 799.6,213.7 801.0,213.6 801.8,213.5 804.0,213.5 804.7,213.6 805.5,213.7 806.2,213.8 807.0,213.5 809.2,212.9 809.9,212.4 810.7,211.6 812.1,210.6 814.4,210.0 815.1,209.5 815.8,208.6 816.6,207.6 817.3,206.3 819.5,204.7 820.3,202.8 821.0,201.3 821.8,200.1 822.5,198.9 824.7,197.5 825.5,196.3 826.2,195.6 826.9,194.7 827.7,193.7 829.9,192.8 830.6,191.5 831.4,190.3 832.1,189.7 832.9,189.5 835.1,190.4 835.8,190.9 836.6,191.5 837.3,191.8 838.0,191.9 840.3,192.2 841.0,192.1 841.7,191.7 842.5,191.4 843.2,191.1 845.4,191.0 846.2,191.1 846.9,190.9 847.7,190.1 848.4,189.2 850.6,188.5 851.4,187.6 852.1,186.5 852.8,185.5 853.6,184.4 856.5,183.9 857.3,183.8 858.0,184.0 858.8,183.6 861.0,182.6 861.7,180.5 862.5,178.6 863.2,176.6 863.9,174.7 866.2,172.9 866.9,170.8 867.6,168.7 868.4,167.3 869.1,166.1 871.3,164.9 872.1,164.0 872.8,163.1 873.6,162.1 874.3,161.3 876.5,160.3 877.3,159.5 878.0,158.8 878.7,158.0 879.5,157.2 881.7,157.0 882.4,156.0 883.2,154.8 883.9,152.8 884.7,150.6 887.6,148.5 888.4,146.5 889.1,144.6 889.8,143.1 892.1,141.8 892.8,140.8 893.5,140.0 894.3,139.7 895.0,139.4 897.2,138.9 898.0,138.6 898.7,138.4 899.5,138.4 900.2,138.5 902.4,138.8 903.2,137.7 903.9,136.2 904.6,134.5 905.4,133.0 908.3,131.6 909.1,130.2 909.8,129.2 910.6,128.5 912.8,127.9 913.5,127.5 914.3,127.2 915.0,126.6 915.7,125.7 918.0,124.3 918.7,122.7 919.4,120.9 920.9,119.0 923.1,117.1 923.9,115.3 924.6,113.8 925.4,112.3 926.1,110.5 928.3,108.8 929.1,107.2 929.8,105.7 930.5,105.9 931.3,106.1 933.5,106.6 934.2,108.2 935.0,109.9 935.7,111.1 936.5,112.1 938.7,113.1 939.4,113.6 940.9,114.0 941.6,114.7 943.9,116.1 944.6,117.8 946.1,119.9 946.8,121.8 949.0,123.7 949.8,125.8 950.5,127.8 951.3,130.0 952.0,132.0 954.2,133.6 955.0,135.0 955.7,135.8 956.4,136.2 957.2,136.2 960.1,135.9 960.9,135.5 961.6,134.9 962.4,133.2 964.6,131.3 965.3,129.7 966.1,128.0 966.8,126.2 967.5,125.0 969.8,124.2 970.5,122.9 971.2,121.3 972.0,119.9 972.7,118.5 974.9,117.2 975.7,116.0 976.4,114.5 977.2,112.7 977.9,110.5 980.9,108.1 981.6,106.2 982.3,104.6 983.1,103.8 985.3,103.5 986.0,103.3 986.8,103.7 987.5,103.8 988.3,104.0 990.5,105.3 991.2,106.6 992.0,107.7 992.7,108.9 993.4,110.1 995.7,112.1 996.4,114.1 997.1,116.7 997.9,119.1 998.6,120.9 1000.8,122.2 1001.6,123.6 1002.3,124.9 1003.1,126.5 1003.8,128.1 1006.0,129.5 1006.8,131.4 1007.5,133.5 1008.2,135.6 1009.0,137.4 1011.2,138.7 1011.9,139.9 1012.7,140.7 1013.4,145.8 1014.2,151.0 1016.4,155.4 1017.1,160.1 1017.9,162.5 1018.6,164.9 1019.3,168.4 1021.6,170.2 1022.3,171.9 1023.0,173.6 1023.8,175.3 1024.5,177.8 1026.7,181.0 1027.5,183.5 1028.2,185.5 1029.0,187.3 1029.7,189.1 1031.9,191.0 1032.7,192.4 1033.4,193.5 1034.1,194.1 1034.9,194.5 1037.1,195.4 1037.8,196.6 1038.6,197.7 1039.3,194.9 1040.1,191.8 1042.3,187.6 1043.0,183.1 1043.8,180.9 1044.5,178.4 1045.2,174.7 1047.5,171.9 1048.2,169.2 1048.9,166.4 1049.7,164.1 1050.4,161.6 1053.4,158.1 1054.1,155.7 1054.9,153.6 1055.6,151.7 1057.8,149.7 1058.6,147.9 1059.3,146.4 1060.0,144.8 1060.8,143.2 1063.0,141.8 1063.7,140.0 1064.5,138.0 1065.2,136.2 1066.0,134.7 1068.2,133.0 1068.9,132.6 1069.7,132.0 1071.1,131.5 1073.4,131.1 1074.1,130.7 1074.8,130.0 1075.6,128.9 1076.3,127.4 1078.5,125.4 1079.3,122.7 1080.0,120.3 1080.8,118.0 1083.7,116.0 1084.5,113.9 1085.2,111.8 1085.9,109.8 1086.7,107.8 1088.9,106.1 1089.6,104.9 1090.4,103.5 1091.1,102.5 1091.9,101.4 1094.1,100.1 1094.8,98.1 1095.6,96.3 1096.3,94.2 1097.0,92.2 1099.3,90.5 1100.0,89.2 1100.7,88.1 1101.5,87.7 1102.2,87.7 1104.4,87.4 1105.2,87.2 1105.9,87.6 1106.7,88.1 1107.4,88.2 1109.6,88.0 1110.4,87.2 1111.1,86.6 1111.8,86.0 1112.6,85.3 1114.8,84.4 1115.5,83.2 1116.3,82.3 1117.0,81.4 1117.8,79.9 1120.0,78.7 1120.7,77.7 1121.5,76.8"/>
<polyline fill="none" stroke="#800080" stroke-width="2.08" stroke-linejoin="round" stroke-linecap="square" points="348.9,396.7 349.6,397.2 350.4,397.7 351.1,398.2 353.3,398.6 354.1,399.0 354.8,399.4 355.6,399.8 356.3,400.1 358.5,400.5 359.3,400.8 360.0,401.2 360.7,401.6 361.5,401.8 363.7,402.0 364.4,402.2 365.2,402.4 365.9,402.4 368.9,402.4 369.6,402.5 370.4,402.6 371.1,402.8 371.8,403.0 374.1,403.1 374.8,403.2 375.5,403.3 377.0,403.5 379.2,403.7 380.0,403.8 380.7,403.9 381.5,403.9 382.2,404.0 384.4,404.1 385.2,404.3 385.9,404.4 386.6,404.4 387.4,404.4 389.6,404.4 390.3,404.4 391.1,404.4 391.8,404.5 392.6,404.7 394.8,404.9 395.5,405.0 396.3,405.1 397.0,405.2 397.7,405.3 400.7,405.4 401.4,405.5 402.2,405.6 402.9,405.8 405.9,406.0 406.6,406.2 407.4,406.3 408.1,406.5 410.3,406.6 411.1,406.7 411.8,406.9 412.5,407.0 413.3,407.2 416.2,407.4 417.0,407.6 417.7,407.8 418.5,408.0 420.7,408.1 421.4,408.2 422.2,408.2 422.9,408.3 423.6,408.4 425.9,408.6 426.6,408.8 427.3,408.8 428.1,408.8 428.8,408.8 431.0,408.9 431.8,409.0 432.5,409.1 433.3,409.2 434.0,409.2 436.2,409.1 437.0,409.0 437.7,409.0 438.4,408.8 439.2,408.9 442.1,408.9 442.9,408.9 443.6,408.9 444.4,409.0 446.6,408.9 447.3,408.9 448.1,408.8 448.8,408.6 449.5,408.4 451.8,408.3 452.5,408.3 453.2,408.3 454.0,408.4 454.7,408.4 456.9,408.4 457.7,408.4 458.4,408.5 459.2,408.6 459.9,408.7 462.1,408.9 462.9,409.0 463.6,409.1 464.3,409.3 465.1,409.4 467.3,409.6 468.0,409.7 468.8,409.7 469.5,409.6 470.3,409.5 472.5,409.2 473.2,408.9 474.0,408.6 474.7,408.2 475.4,407.9 477.7,407.5 478.4,407.2 479.1,406.9 479.9,406.6 480.6,406.3 482.8,406.0 483.6,405.6 484.3,405.3 485.1,405.0 485.8,404.7 488.0,404.4 488.8,404.2 489.5,404.0 490.2,403.6 491.0,403.2 493.2,402.9 493.9,402.6 494.7,402.4 495.4,402.2 496.2,402.0 498.4,401.8 499.1,401.6 499.9,401.5 500.6,401.4 501.3,401.2 503.6,401.2 504.3,401.2 505.0,401.2 505.8,401.0 506.5,400.9 508.7,400.8 509.5,400.7 510.2,400.7 511.0,400.6 511.7,400.6 514.7,400.7 515.4,400.7 516.1,400.8 516.9,400.7 519.1,400.7 519.8,400.7 520.6,400.6 521.3,400.5 522.1,400.4 524.3,400.2 525.0,400.1 525.8,399.8 526.5,399.6 527.2,399.3 530.2,399.0 530.9,398.7 531.7,398.4 532.4,398.1 534.6,397.8 535.4,397.5 536.1,397.2 536.9,397.0 537.6,396.7 539.8,396.3 541.3,395.9 542.0,395.5 542.8,395.2 545.0,394.7 545.7,394.2 546.5,393.7 547.2,393.1 548.0,392.5 550.2,391.7 550.9,391.1 551.7,390.4 552.4,389.6 553.1,388.9 555.4,388.2 556.1,387.6 556.8,386.9 557.6,386.2 558.3,385.5 560.5,384.7 561.3,383.9 562.0,383.2 562.8,382.6 563.5,382.0 565.7,381.3 566.5,380.7 567.2,380.2 567.9,379.7 568.7,379.2 570.9,378.7 571.6,378.3 572.4,378.0 573.1,377.7 573.9,377.3 576.1,377.0 576.8,376.6 577.6,376.2 578.3,375.9 579.0,375.6 581.3,375.1 582.0,374.7 582.7,374.4 583.5,374.2 584.2,373.9 587.2,373.6 587.9,373.4 588.7,373.1 589.4,372.9 591.6,372.7 592.4,372.5 593.1,372.3 593.8,372.0 594.6,371.7 596.8,371.5 597.5,371.4 598.3,371.3 599.0,371.1 599.8,370.9 602.0,370.8 602.7,370.6 603.5,370.4 604.2,370.3 604.9,370.2 607.2,370.1 607.9,370.0 608.6,369.8 609.4,369.6 610.1,369.4 613.1,369.2 613.8,368.9 614.6,368.7 615.3,368.4 617.5,368.2 618.3,367.9 619.0,367.7 619.7,367.5 620.5,367.4 622.7,367.3 623.4,367.3 624.2,367.3 624.9,367.3 625.7,367.4 627.9,367.5 628.6,367.5 629.4,367.5 630.1,367.3 630.8,367.2 633.1,367.0 633.8,366.9 634.5,366.9 635.3,366.8 638.2,366.7 639.0,366.6 639.7,366.3 640.5,365.9 641.2,365.8 643.4,365.7 644.2,365.5 644.9,365.4 646.4,365.2 648.6,365.0 649.3,364.8 650.1,364.6 650.8,364.4 651.6,364.2 653.8,364.0 654.5,363.8 655.3,363.4 656.0,363.1 656.7,362.7 659.0,362.4 659.7,361.9 660.4,361.5 661.2,361.0 661.9,360.5 664.1,360.0 664.9,359.5 665.6,359.1 666.4,358.6 667.1,358.0 670.1,357.4 670.8,356.7 671.5,356.0 672.3,355.3 675.2,354.7 676.0,354.0 676.7,353.4 677.5,352.8 679.7,352.2 680.4,351.5 681.2,350.9 681.9,350.2 682.6,349.6 685.6,349.1 686.3,348.6 687.1,348.1 687.8,347.6 690.0,347.1 690.8,346.6 691.5,346.0 692.3,345.4 693.0,344.8 695.2,344.3 696.0,343.7 696.7,343.2 697.4,342.7 698.2,342.1 700.4,341.6 701.1,341.0 701.9,340.5 702.6,339.9 703.4,339.3 705.6,338.6 706.3,338.0 707.1,337.4 707.8,336.8 708.5,336.2 711.5,335.6 712.2,335.0 713.0,334.2 713.7,333.5 715.9,332.8 716.7,332.1 717.4,331.4 718.2,330.6 718.9,329.8 721.1,329.1 721.9,328.3 722.6,327.5 723.3,326.7 724.1,326.0 726.3,325.2 727.0,324.4 727.8,323.7 728.5,322.9 729.3,322.1 731.5,321.3 732.2,320.4 733.0,319.5 733.7,318.7 734.4,317.9 736.7,317.1 737.4,316.4 738.1,315.6 738.9,314.8 739.6,314.0 741.8,313.2 742.6,312.5 743.3,311.9 744.1,311.2 744.8,310.6 747.0,309.9 747.8,309.2 748.5,308.5 749.2,307.8 750.0,307.2 752.2,306.6 752.9,306.1 753.7,305.6 754.4,305.1 755.2,304.6 757.4,304.0 758.1,303.4 758.9,302.8 759.6,302.3 760.3,301.8 762.6,301.3 763.3,300.9 764.0,300.4 764.8,299.9 765.5,299.4 767.7,298.9 768.5,298.4 769.2,297.9 770.0,297.3 770.7,296.8 772.9,296.3 773.7,295.7 774.4,295.2 775.1,294.6 775.9,294.0 778.1,293.4 778.8,292.8 779.6,292.2 780.3,291.7 781.1,291.1 784.0,290.6 784.8,290.0 785.5,289.5 786.2,288.9 788.5,288.2 789.2,287.6 789.9,286.9 790.7,286.2 791.4,285.6 793.6,284.9 794.4,284.2 795.1,283.5 795.9,282.9 796.6,282.3 798.8,281.7 799.6,281.0 801.0,280.4 801.8,279.8 804.0,279.1 804.7,278.4 805.5,277.7 806.2,277.0 807.0,276.4 809.2,275.8 809.9,275.1 810.7,274.5 812.1,273.8 814.4,273.1 815.1,272.4 815.8,271.6 816.6,270.8 817.3,269.9 819.5,268.9 820.3,268.0 821.0,267.0 821.8,266.1 822.5,265.3 824.7,264.3 825.5,263.4 826.2,262.5 826.9,261.5 827.7,260.6 829.9,259.7 830.6,258.8 831.4,257.9 832.1,257.0 832.9,256.3 835.1,255.6 835.8,254.9 836.6,254.2 837.3,253.3 838.0,252.4 840.3,251.6 841.0,250.7 841.7,249.6 842.5,248.5 843.2,247.5 845.4,246.4 846.2,245.5 846.9,244.5 847.7,243.5 848.4,242.6 850.6,241.6 851.4,240.6 852.1,239.6 852.8,238.7 853.6,237.7 856.5,236.9 857.3,236.1 858.0,235.3 858.8,234.6 861.0,233.8 861.7,233.1 862.5,232.3 863.2,231.5 863.9,230.6 866.2,229.8 866.9,228.9 867.6,228.1 868.4,227.2 869.1,226.4 871.3,225.5 872.1,224.6 872.8,223.8 873.6,223.0 874.3,222.2 876.5,221.5 877.3,220.7 878.0,220.0 878.7,219.3 879.5,218.6 881.7,217.8 882.4,217.1 883.2,216.4 883.9,215.7 884.7,214.9 887.6,214.2 888.4,213.4 889.1,212.6 889.8,211.8 892.1,211.0 892.8,210.3 893.5,209.6 894.3,208.8 895.0,208.1 897.2,207.4 898.0,206.6 898.7,205.9 899.5,205.2 900.2,204.5 902.4,203.8 903.2,202.9 903.9,202.1 904.6,201.3 905.4,200.5 908.3,199.7 909.1,198.9 909.8,198.2 910.6,197.4 912.8,196.7 913.5,195.9 914.3,195.2 915.0,194.4 915.7,193.6 918.0,192.8 918.7,191.9 919.4,191.1 920.9,190.1 923.1,189.3 923.9,188.5 924.6,187.7 925.4,186.9 926.1,186.2 928.3,185.4 929.1,184.8 929.8,184.1 930.5,183.4 931.3,182.7 933.5,182.1 934.2,181.6 935.0,181.2 935.7,180.6 936.5,180.2 938.7,179.7 939.4,179.2 940.9,178.7 941.6,178.2 943.9,177.8 944.6,177.4 946.1,176.9 946.8,176.5 949.0,176.1 949.8,175.7 950.5,175.3 951.3,175.0 952.0,174.6 954.2,174.3 955.0,173.9 955.7,173.5 956.4,173.1 957.2,172.6 960.1,172.0 960.9,171.5 961.6,170.9 962.4,170.3 964.6,169.7 965.3,169.1 966.1,168.5 966.8,167.9 967.5,167.2 969.8,166.5 970.5,165.8 971.2,165.0 972.0,164.4 972.7,163.7 974.9,163.1 975.7,162.4 976.4,161.8 977.2,161.1 977.9,160.4 980.9,159.6 981.6,158.8 982.3,158.1 983.1,157.5 985.3,156.8 986.0,156.2 986.8,155.7 987.5,155.1 988.3,154.6 990.5,154.2 991.2,153.8 992.0,153.4 992.7,153.0 993.4,152.7 995.7,152.4 996.4,152.2 997.1,152.0 997.9,151.8 998.6,151.4 1000.8,151.1 1001.6,150.7 1002.3,150.2 1003.1,149.8 1003.8,149.5 1006.0,149.0 1006.8,148.7 1007.5,148.3 1008.2,148.0 1009.0,147.7 1011.2,147.3 1011.9,146.9 1012.7,146.5 1013.4,146.6 1014.2,146.7 1016.4,146.9 1017.1,147.1 1017.9,147.0 1018.6,147.0 1019.3,147.0 1021.6,147.0 1022.3,147.0 1023.0,147.0 1023.8,147.0 1024.5,147.0 1026.7,147.1 1027.5,147.1 1028.2,147.1 1029.0,147.0 1029.7,146.9 1031.9,146.8 1032.7,146.8 1033.4,146.7 1034.1,146.7 1034.9,146.6 1037.1,146.6 1037.8,146.5 1038.6,146.4 1039.3,146.3 1040.1,146.2 1042.3,145.9 1043.0,145.7 1043.8,145.4 1044.5,145.2 1045.2,144.9 1047.5,144.7 1048.2,144.4 1048.9,144.1 1049.7,143.7 1050.4,143.4 1053.4,143.0 1054.1,142.6 1054.9,142.3 1055.6,141.9 1057.8,141.6 1058.6,141.4 1059.3,141.1 1060.0,140.9 1060.8,140.7 1063.0,140.5 1063.7,140.2 1064.5,140.0 1065.2,139.8 1066.0,139.6 1068.2,139.3 1068.9,139.2 1069.7,139.0 1071.1,138.8 1073.4,138.6 1074.1,138.3 1074.8,137.9 1075.6,137.5 1076.3,137.2 1078.5,136.8 1079.3,136.4 1080.0,135.9 1080.8,135.5 1083.7,135.2 1084.5,134.8 1085.2,134.5 1085.9,134.2 1086.7,133.8 1088.9,133.6 1089.6,133.3 1090.4,133.0 1091.1,132.7 1091.9,132.5 1094.1,132.2 1094.8,131.9 1095.6,131.5 1096.3,131.2 1097.0,130.8 1099.3,130.5 1100.0,130.2 1100.7,130.0 1101.5,129.8 1102.2,129.7 1104.4,129.5 1105.2,129.4 1105.9,129.2 1106.7,129.1 1107.4,128.8 1109.6,128.6 1110.4,128.2 1111.1,127.9 1111.8,127.5 1112.6,127.2 1114.8,126.8 1115.5,126.4 1116.3,126.0 1117.0,125.6 1117.8,125.1 1120.0,124.9 1120.7,124.6 1121.5,124.3"/>
</g>
<rect x="86.50" y="30.50" width="1085.00" height="476.00" fill="none" stroke="#000" stroke-width="1"/>
<path stroke="#000" stroke-width="1" d="M86.50 448.50h-4.86M86.50 367.50h-4.86M86.50 285.50h-4.86M86.50 204.50h-4.86M86.50 123.50h-4.86M86.50 41.50h-4.86M134.50 506.50v4.86M268.50 506.50v4.86M404.50 506.50v4.86M538.50 506.50v4.86M674.50 506.50v4.86M809.50 506.50v4.86M945.50 506.50v4.86M1079.50 506.50v4.86"/>
<text transform="translate(75.70 452.90) scale(0.977 0.880)" text-anchor="end" style="font-size:13.89px;font-family:'WenQuanYi Zen Hei','Liberation Sans',sans-serif">16</text>
<text transform="translate(75.70 371.90) scale(0.977 0.880)" text-anchor="end" style="font-size:13.89px;font-family:'WenQuanYi Zen Hei','Liberation Sans',sans-serif">18</text>
<text transform="translate(75.70 289.90) scale(0.977 0.880)" text-anchor="end" style="font-size:13.89px;font-family:'WenQuanYi Zen Hei','Liberation Sans',sans-serif">20</text>
<text transform="translate(75.70 208.90) scale(0.977 0.880)" text-anchor="end" style="font-size:13.89px;font-family:'WenQuanYi Zen Hei','Liberation Sans',sans-serif">22</text>
<text transform="translate(75.70 127.90) scale(0.977 0.880)" text-anchor="end" style="font-size:13.89px;font-family:'WenQuanYi Zen Hei','Liberation Sans',sans-serif">24</text>
<text transform="translate(75.70 45.90) scale(0.977 0.880)" text-anchor="end" style="font-size:13.89px;font-family:'WenQuanYi Zen Hei','Liberation Sans',sans-serif">26</text>
<text transform="translate(52.10 269.95) rotate(-90) scale(0.970 0.900)" text-anchor="middle" style="font-size:13.89px;font-family:'WenQuanYi Zen Hei','Liberation Sans',sans-serif">Price</text>
<text transform="translate(628.30 22.10)" text-anchor="middle" style="font-size:16.67px;font-family:'WenQuanYi Zen Hei','Liberation Sans',sans-serif">FNDX 2025-08-27 18:14:41</text>
<path d="M96.22 37.44H198.69Q201.47 37.44 201.47 40.22V154.32Q201.47 157.10 198.69 157.10H96.22Q93.44 157.10 93.44 154.32V40.22Q93.44 37.44 96.22 37.44Z" fill="#fff" fill-opacity="0.8" stroke="#ccc" stroke-opacity="0.8" stroke-width="1.39"/>
<path d="M98 46.90H125.9" stroke="#000000" stroke-width="2.08" stroke-linecap="square"/>
<text transform="translate(137.30 52.60) scale(0.977 0.880)" style="font-size:13.89px;font-family:'WenQuanYi Zen Hei','Liberation Sans',sans-serif">Close</text>
<path d="M98 67.10H125.9" stroke="#008000" stroke-width="2.08" stroke-linecap="square"/>
<text transform="translate(137.30 72.60) scale(0.977 0.880)" style="font-size:13.89px;font-family:'WenQuanYi Zen Hei','Liberation Sans',sans-serif">MA50[买]</text>
<path d="M98 87.90H125.9" stroke="#ff0000" stroke-width="2.08" stroke-linecap="square"/>
<text transform="translate(137.30 92.50) scale(0.977 0.880)" style="font-size:13.89px;font-family:'WenQuanYi Zen Hei','Liberation Sans',sans-serif">MA25[卖]</text>
<path d="M98 106.90H125.9" stroke="#800080" stroke-width="2.08" stroke-linecap="square"/>
<text transform="translate(137.30 111.50) scale(0.977 0.880)" style="font-size:13.89px;font-family:'WenQuanYi Zen Hei','Liberation Sans',sans-serif">MA200</text>
<path fill="#008000" d="M112.30 116.30L101.80 137.30L122.80 137.30Z"/>
<path fill="#ff0000" d="M112.30 156.10L101.80 135.10L122.80 135.10Z"/>
<text transform="translate(137.30 130.10) scale(0.977 0.880)" style="font-size:13.89px;font-family:'WenQuanYi Zen Hei','Liberation Sans',sans-serif">Buy</text>
<text transform="translate(137.30 148.50) scale(0.977 0.880)" style="font-size:13.89px;font-family:'WenQuanYi Zen Hei','Liberation Sans',sans-serif">Sell</text>
<g clip-path="url(#c2)">
<path fill="#bfbfbf" shape-rendering="crispEdges" d="M135 680.5h1v0.3h-1zM136 677.5h1v3.3h-1zM137 679.7h1v1.1h-1zM138 679.1h1v1.7h-1zM138 678.5h1v2.3h-1zM140 670.8h1v10.0h-1zM141 634.9h1v45.9h-1zM142 680.5h1v0.3h-1zM143 679.3h1v1.5h-1zM143 679.6h1v1.2h-1zM146 676.9h1v3.9h-1zM147 675.1h1v5.7h-1zM148 679.8h1v1.0h-1zM149 680.5h1v0.3h-1zM151 680.0h1v0.8h-1zM152 676.0h1v4.8h-1zM152 680.2h1v0.6h-1zM153 675.1h1v5.7h-1zM154 678.6h1v2.2h-1zM156 678.8h1v2.0h-1zM157 679.3h1v1.5h-1zM157 676.9h1v3.9h-1zM158 676.0h1v4.8h-1zM159 679.4h1v1.4h-1zM161 677.5h1v3.3h-1zM162 680.3h1v0.5h-1zM163 678.8h1v2.0h-1zM163 679.0h1v1.8h-1zM164 676.0h1v4.8h-1zM166 676.9h1v3.9h-1zM167 676.0h1v4.8h-1zM168 679.6h1v1.2h-1zM169 676.0h1v4.8h-1zM169 679.6h1v1.2h-1zM172 677.8h1v3.0h-1zM173 678.8h1v2.0h-1zM174 670.1h1v10.7h-1zM175 680.0h1v0.8h-1zM177 676.9h1v3.9h-1zM177 679.3h1v1.5h-1zM178 679.7h1v1.1h-1zM179 679.9h1v0.9h-1zM180 679.2h1v1.6h-1zM182 679.8h1v1.0h-1zM183 679.6h1v1.2h-1zM183 675.1h1v5.7h-1zM184 679.7h1v1.1h-1zM185 678.7h1v2.1h-1zM187 678.8h1v2.0h-1zM188 675.1h1v5.7h-1zM189 679.7h1v1.1h-1zM189 678.8h1v2.0h-1zM190 679.3h1v1.5h-1zM192 661.2h1v19.6h-1zM193 669.5h1v11.3h-1zM194 671.4h1v9.4h-1zM194 673.2h1v7.6h-1zM195 674.1h1v6.7h-1zM197 676.9h1v3.9h-1zM198 678.8h1v2.0h-1zM199 678.6h1v2.2h-1zM200 677.8h1v3.0h-1zM200 680.5h1v0.3h-1zM203 677.5h1v3.3h-1zM203 679.4h1v1.4h-1zM204 646.9h1v33.9h-1zM205 677.8h1v3.0h-1zM206 678.6h1v2.2h-1zM208 679.3h1v1.5h-1zM209 679.6h1v1.2h-1zM209 678.8h1v2.0h-1zM210 679.3h1v1.5h-1zM211 680.0h1v0.8h-1zM213 679.6h1v1.2h-1zM214 679.0h1v1.8h-1zM214 678.2h1v2.6h-1zM215 680.3h1v0.5h-1zM216 679.9h1v0.9h-1zM218 672.3h1v8.5h-1zM219 680.0h1v0.8h-1zM220 680.3h1v0.5h-1zM220 679.7h1v1.1h-1zM221 675.1h1v5.7h-1zM223 664.9h1v15.9h-1zM224 676.0h1v4.8h-1zM225 677.8h1v3.0h-1zM226 679.6h1v1.2h-1zM226 676.0h1v4.8h-1zM229 676.9h1v3.9h-1zM229 679.2h1v1.6h-1zM230 671.4h1v9.4h-1zM231 678.8h1v2.0h-1zM231 680.5h1v0.3h-1zM234 678.7h1v2.1h-1zM234 680.0h1v0.8h-1zM235 679.6h1v1.2h-1zM236 678.9h1v1.9h-1zM237 679.1h1v1.7h-1zM239 680.3h1v0.5h-1zM240 679.2h1v1.6h-1zM240 678.2h1v2.6h-1zM241 679.9h1v0.9h-1zM242 678.9h1v1.9h-1zM245 678.2h1v2.6h-1zM246 679.3h1v1.5h-1zM246 679.1h1v1.7h-1zM247 678.8h1v2.0h-1zM249 679.3h1v1.5h-1zM250 680.6h1v0.2h-1zM251 676.0h1v4.8h-1zM251 679.6h1v1.2h-1zM252 676.0h1v4.8h-1zM254 529.4h1v151.4h-1zM255 675.1h1v5.7h-1zM256 678.8h1v2.0h-1zM257 666.0h1v14.8h-1zM257 676.9h1v3.9h-1zM260 674.1h1v6.7h-1zM261 679.2h1v1.6h-1zM262 669.0h1v11.8h-1zM263 678.8h1v2.0h-1zM265 675.1h1v5.7h-1zM266 680.3h1v0.5h-1zM266 676.0h1v4.8h-1zM267 673.2h1v7.6h-1zM268 680.6h1v0.2h-1zM271 679.5h1v1.3h-1zM271 679.3h1v1.5h-1zM272 678.5h1v2.3h-1zM273 680.0h1v0.8h-1zM275 673.2h1v7.6h-1zM276 678.7h1v2.1h-1zM277 678.7h1v2.1h-1zM277 678.8h1v2.0h-1zM278 679.7h1v1.1h-1zM280 671.4h1v9.4h-1zM281 677.8h1v3.0h-1zM282 680.3h1v0.5h-1zM283 678.2h1v2.6h-1zM283 678.9h1v1.9h-1zM286 679.4h1v1.4h-1zM286 678.8h1v2.0h-1zM287 680.6h1v0.2h-1zM288 667.1h1v13.7h-1zM288 678.9h1v1.9h-1zM291 680.5h1v0.3h-1zM291 680.6h1v0.2h-1zM292 679.9h1v0.9h-1zM293 680.5h1v0.3h-1zM294 680.3h1v0.5h-1zM296 680.6h1v0.2h-1zM297 679.5h1v1.3h-1zM297 679.1h1v1.7h-1zM298 677.0h1v3.8h-1zM299 680.3h1v0.5h-1zM301 679.9h1v0.9h-1zM302 679.4h1v1.4h-1zM303 678.1h1v2.7h-1zM303 676.6h1v4.2h-1zM304 671.8h1v9.0h-1zM306 679.1h1v1.7h-1zM307 678.8h1v2.0h-1zM308 678.6h1v2.2h-1zM308 675.2h1v5.6h-1zM309 679.0h1v1.8h-1zM311 675.2h1v5.6h-1zM312 679.3h1v1.5h-1zM313 678.7h1v2.1h-1zM314 680.6h1v0.2h-1zM314 680.0h1v0.8h-1zM317 678.1h1v2.7h-1zM318 677.8h1v3.0h-1zM319 675.2h1v5.6h-1zM320 680.6h1v0.2h-1zM322 678.8h1v2.0h-1zM323 680.5h1v0.3h-1zM323 679.9h1v0.9h-1zM324 677.0h1v3.8h-1zM325 680.2h1v0.6h-1zM327 679.5h1v1.3h-1zM328 679.5h1v1.3h-1zM328 679.9h1v0.9h-1zM329 663.9h1v16.9h-1zM330 680.3h1v0.5h-1zM332 674.2h1v6.6h-1zM333 679.9h1v0.9h-1zM334 679.8h1v1.0h-1zM334 680.2h1v0.6h-1zM335 679.9h1v0.9h-1zM337 677.0h1v3.8h-1zM338 680.4h1v0.4h-1zM339 678.1h1v2.7h-1zM340 680.1h1v0.7h-1zM340 675.9h1v4.9h-1zM343 679.5h1v1.3h-1zM344 679.6h1v1.2h-1zM345 675.9h1v4.9h-1zM345 679.8h1v1.0h-1zM348 677.0h1v3.8h-1zM348 679.3h1v1.5h-1zM349 678.8h1v2.0h-1zM350 680.5h1v0.3h-1zM351 679.0h1v1.8h-1zM353 678.6h1v2.2h-1zM354 679.3h1v1.5h-1zM354 680.0h1v0.8h-1zM355 674.2h1v6.6h-1zM356 679.1h1v1.7h-1zM358 677.0h1v3.8h-1zM359 677.0h1v3.8h-1zM360 677.0h1v3.8h-1zM360 677.0h1v3.8h-1zM361 677.0h1v3.8h-1zM363 679.9h1v0.9h-1zM364 680.5h1v0.3h-1zM365 678.5h1v2.3h-1zM365 679.5h1v1.3h-1zM368 679.9h1v0.9h-1zM369 679.0h1v1.8h-1zM370 680.2h1v0.6h-1zM371 680.0h1v0.8h-1zM371 680.1h1v0.7h-1zM374 678.1h1v2.7h-1zM374 680.4h1v0.4h-1zM375 679.9h1v0.9h-1zM377 679.6h1v1.2h-1zM379 679.7h1v1.1h-1zM379 680.4h1v0.4h-1zM380 679.9h1v0.9h-1zM381 678.9h1v1.9h-1zM382 679.3h1v1.5h-1zM384 680.1h1v0.7h-1zM385 679.2h1v1.6h-1zM385 680.3h1v0.5h-1zM386 678.8h1v2.0h-1zM387 679.4h1v1.4h-1zM389 677.0h1v3.8h-1zM390 679.5h1v1.3h-1zM391 675.2h1v5.6h-1zM391 680.1h1v0.7h-1zM392 676.6h1v4.2h-1zM394 675.2h1v5.6h-1zM395 678.7h1v2.1h-1zM396 680.2h1v0.6h-1zM397 680.4h1v0.4h-1zM397 679.2h1v1.6h-1zM400 680.0h1v0.8h-1zM401 679.5h1v1.3h-1zM402 679.5h1v1.3h-1zM402 679.6h1v1.2h-1zM405 679.5h1v1.3h-1zM406 680.5h1v0.3h-1zM407 679.4h1v1.4h-1zM408 679.9h1v0.9h-1zM410 680.6h1v0.2h-1zM411 679.0h1v1.8h-1zM411 679.4h1v1.4h-1zM412 680.2h1v0.6h-1zM413 679.3h1v1.5h-1zM416 679.9h1v0.9h-1zM416 678.5h1v2.3h-1zM417 678.1h1v2.7h-1zM418 680.5h1v0.3h-1zM420 679.9h1v0.9h-1zM421 679.8h1v1.0h-1zM422 679.9h1v0.9h-1zM422 680.2h1v0.6h-1zM423 679.9h1v0.9h-1zM425 680.2h1v0.6h-1zM426 679.2h1v1.6h-1zM427 679.9h1v0.9h-1zM428 680.2h1v0.6h-1zM428 680.1h1v0.7h-1zM431 678.5h1v2.3h-1zM431 679.8h1v1.0h-1zM432 680.3h1v0.5h-1zM433 679.1h1v1.7h-1zM434 678.7h1v2.1h-1zM436 680.3h1v0.5h-1zM436 679.1h1v1.7h-1zM437 680.3h1v0.5h-1zM438 679.9h1v0.9h-1zM439 679.5h1v1.3h-1zM442 675.2h1v5.6h-1zM442 678.6h1v2.2h-1zM443 679.1h1v1.7h-1zM444 679.1h1v1.7h-1zM446 679.5h1v1.3h-1zM447 680.2h1v0.6h-1zM448 680.4h1v0.4h-1zM448 680.3h1v0.5h-1zM449 679.9h1v0.9h-1zM451 679.5h1v1.3h-1zM452 680.5h1v0.3h-1zM453 678.6h1v2.2h-1zM453 675.2h1v5.6h-1zM454 679.5h1v1.3h-1zM456 671.1h1v9.7h-1zM457 680.2h1v0.6h-1zM458 679.0h1v1.8h-1zM459 678.6h1v2.2h-1zM459 679.6h1v1.2h-1zM462 680.6h1v0.2h-1zM462 678.1h1v2.7h-1zM463 679.2h1v1.6h-1zM464 679.8h1v1.0h-1zM465 679.5h1v1.3h-1zM467 678.7h1v2.1h-1zM468 678.9h1v1.9h-1zM468 659.0h1v21.8h-1zM469 679.8h1v1.0h-1zM470 678.8h1v2.0h-1zM472 679.2h1v1.6h-1zM473 678.8h1v2.0h-1zM473 679.1h1v1.7h-1zM474 679.2h1v1.6h-1zM475 680.0h1v0.8h-1zM477 679.2h1v1.6h-1zM478 679.5h1v1.3h-1zM479 678.8h1v2.0h-1zM479 679.2h1v1.6h-1zM480 679.2h1v1.6h-1zM482 679.8h1v1.0h-1zM483 679.0h1v1.8h-1zM484 680.2h1v0.6h-1zM485 679.6h1v1.2h-1zM485 680.4h1v0.4h-1zM488 679.5h1v1.3h-1zM488 678.6h1v2.2h-1zM489 678.1h1v2.7h-1zM490 678.8h1v2.0h-1zM490 679.5h1v1.3h-1zM493 678.1h1v2.7h-1zM493 678.9h1v1.9h-1zM494 680.5h1v0.3h-1zM495 678.8h1v2.0h-1zM496 680.6h1v0.2h-1zM498 679.2h1v1.6h-1zM499 680.3h1v0.5h-1zM499 679.2h1v1.6h-1zM500 678.6h1v2.2h-1zM501 679.6h1v1.2h-1zM503 679.2h1v1.6h-1zM504 679.0h1v1.8h-1zM505 680.4h1v0.4h-1zM505 678.8h1v2.0h-1zM506 678.3h1v2.5h-1zM508 678.3h1v2.5h-1zM509 679.5h1v1.3h-1zM510 675.2h1v5.6h-1zM510 679.0h1v1.8h-1zM511 680.6h1v0.2h-1zM514 679.5h1v1.3h-1zM515 678.9h1v1.9h-1zM516 675.9h1v4.9h-1zM516 680.4h1v0.4h-1zM519 680.2h1v0.6h-1zM519 680.1h1v0.7h-1zM520 678.9h1v1.9h-1zM521 679.6h1v1.2h-1zM522 680.3h1v0.5h-1zM524 679.0h1v1.8h-1zM525 679.2h1v1.6h-1zM525 679.1h1v1.7h-1zM526 678.6h1v2.2h-1zM527 680.1h1v0.7h-1zM530 680.1h1v0.7h-1zM530 678.8h1v2.0h-1zM531 679.5h1v1.3h-1zM532 678.3h1v2.5h-1zM534 677.0h1v3.8h-1zM535 679.6h1v1.2h-1zM536 679.5h1v1.3h-1zM536 680.6h1v0.2h-1zM537 679.6h1v1.2h-1zM539 680.0h1v0.8h-1zM541 679.7h1v1.1h-1zM542 679.5h1v1.3h-1zM542 680.2h1v0.6h-1zM545 678.3h1v2.5h-1zM545 679.5h1v1.3h-1zM546 680.0h1v0.8h-1zM547 679.6h1v1.2h-1zM547 678.5h1v2.3h-1zM550 679.9h1v0.9h-1zM550 680.2h1v0.6h-1zM551 678.8h1v2.0h-1zM552 679.9h1v0.9h-1zM553 678.5h1v2.3h-1zM555 679.3h1v1.5h-1zM556 679.6h1v1.2h-1zM556 680.2h1v0.6h-1zM557 679.7h1v1.1h-1zM558 679.1h1v1.7h-1zM560 680.0h1v0.8h-1zM561 678.6h1v2.2h-1zM562 680.2h1v0.6h-1zM562 680.1h1v0.7h-1zM563 679.7h1v1.1h-1zM565 679.5h1v1.3h-1zM566 678.9h1v1.9h-1zM567 679.2h1v1.6h-1zM567 679.9h1v0.9h-1zM568 679.8h1v1.0h-1zM570 680.2h1v0.6h-1zM571 680.4h1v0.4h-1zM572 678.7h1v2.1h-1zM573 678.8h1v2.0h-1zM573 680.1h1v0.7h-1zM576 679.9h1v0.9h-1zM576 679.2h1v1.6h-1zM577 678.9h1v1.9h-1zM578 678.6h1v2.2h-1zM579 678.5h1v2.3h-1zM581 680.0h1v0.8h-1zM582 680.2h1v0.6h-1zM582 680.2h1v0.6h-1zM583 679.4h1v1.4h-1zM584 679.2h1v1.6h-1zM587 680.4h1v0.4h-1zM587 679.2h1v1.6h-1zM588 678.1h1v2.7h-1zM589 678.7h1v2.1h-1zM591 680.2h1v0.6h-1zM592 678.6h1v2.2h-1zM593 678.6h1v2.2h-1zM593 680.5h1v0.3h-1zM594 678.7h1v2.1h-1zM596 680.2h1v0.6h-1zM597 679.9h1v0.9h-1zM598 679.6h1v1.2h-1zM599 676.2h1v4.6h-1zM599 676.6h1v4.2h-1zM601 677.0h1v3.8h-1zM602 677.3h1v3.5h-1zM603 678.3h1v2.5h-1zM604 678.9h1v1.9h-1zM604 680.3h1v0.5h-1zM607 680.1h1v0.7h-1zM607 678.3h1v2.5h-1zM608 678.3h1v2.5h-1zM609 679.4h1v1.4h-1zM610 680.2h1v0.6h-1zM613 679.5h1v1.3h-1zM613 678.6h1v2.2h-1zM614 678.8h1v2.0h-1zM615 680.4h1v0.4h-1zM617 680.2h1v0.6h-1zM618 679.7h1v1.1h-1zM619 678.3h1v2.5h-1zM619 679.8h1v1.0h-1zM620 680.1h1v0.7h-1zM622 679.2h1v1.6h-1zM623 680.2h1v0.6h-1zM624 675.2h1v5.6h-1zM624 674.4h1v6.4h-1zM625 675.9h1v4.9h-1zM627 677.3h1v3.5h-1zM628 679.5h1v1.3h-1zM629 679.5h1v1.3h-1zM630 678.3h1v2.5h-1zM630 679.6h1v1.2h-1zM633 680.2h1v0.6h-1zM633 678.9h1v1.9h-1zM634 678.8h1v2.0h-1zM635 680.4h1v0.4h-1zM638 679.5h1v1.3h-1zM638 679.8h1v1.0h-1zM639 679.5h1v1.3h-1zM640 679.8h1v1.0h-1zM641 680.5h1v0.3h-1zM643 676.2h1v4.6h-1zM644 678.9h1v1.9h-1zM644 679.2h1v1.6h-1zM646 679.1h1v1.7h-1zM648 680.2h1v0.6h-1zM649 680.3h1v0.5h-1zM650 680.6h1v0.2h-1zM650 680.4h1v0.4h-1zM651 679.5h1v1.3h-1zM653 679.2h1v1.6h-1zM654 678.7h1v2.1h-1zM655 680.2h1v0.6h-1zM656 680.1h1v0.7h-1zM656 678.3h1v2.5h-1zM658 679.5h1v1.3h-1zM659 679.8h1v1.0h-1zM660 679.6h1v1.2h-1zM661 679.5h1v1.3h-1zM661 679.4h1v1.4h-1zM664 679.5h1v1.3h-1zM664 679.5h1v1.3h-1zM665 678.9h1v1.9h-1zM666 680.4h1v0.4h-1zM667 679.3h1v1.5h-1zM670 678.5h1v2.3h-1zM670 680.2h1v0.6h-1zM671 679.6h1v1.2h-1zM672 679.3h1v1.5h-1zM675 677.0h1v3.8h-1zM675 678.6h1v2.2h-1zM676 679.6h1v1.2h-1zM677 679.5h1v1.3h-1zM679 678.7h1v2.1h-1zM680 680.6h1v0.2h-1zM681 678.8h1v2.0h-1zM681 679.9h1v0.9h-1zM682 679.8h1v1.0h-1zM685 679.5h1v1.3h-1zM686 679.6h1v1.2h-1zM687 680.5h1v0.3h-1zM687 679.9h1v0.9h-1zM690 679.9h1v0.9h-1zM690 680.2h1v0.6h-1zM691 678.7h1v2.1h-1zM692 679.4h1v1.4h-1zM693 678.6h1v2.2h-1zM695 678.8h1v2.0h-1zM695 679.8h1v1.0h-1zM696 679.5h1v1.3h-1zM697 679.3h1v1.5h-1zM698 679.5h1v1.3h-1zM700 680.6h1v0.2h-1zM701 676.2h1v4.6h-1zM701 678.5h1v2.3h-1zM702 679.5h1v1.3h-1zM703 679.3h1v1.5h-1zM705 679.5h1v1.3h-1zM706 678.6h1v2.2h-1zM707 679.6h1v1.2h-1zM707 679.4h1v1.4h-1zM708 678.3h1v2.5h-1zM711 680.1h1v0.7h-1zM712 676.2h1v4.6h-1zM712 680.1h1v0.7h-1zM713 680.6h1v0.2h-1zM715 679.5h1v1.3h-1zM716 679.0h1v1.8h-1zM717 680.0h1v0.8h-1zM718 679.5h1v1.3h-1zM718 679.1h1v1.7h-1zM721 679.2h1v1.6h-1zM721 678.7h1v2.1h-1zM722 677.3h1v3.5h-1zM723 680.2h1v0.6h-1zM724 678.7h1v2.1h-1zM726 680.2h1v0.6h-1zM727 680.5h1v0.3h-1zM727 678.3h1v2.5h-1zM728 680.6h1v0.2h-1zM729 680.3h1v0.5h-1zM731 680.4h1v0.4h-1zM732 678.3h1v2.5h-1zM732 679.8h1v1.0h-1zM733 678.7h1v2.1h-1zM734 676.2h1v4.6h-1zM736 678.3h1v2.5h-1zM737 680.0h1v0.8h-1zM738 678.3h1v2.5h-1zM738 680.6h1v0.2h-1zM739 678.8h1v2.0h-1zM741 678.3h1v2.5h-1zM742 680.1h1v0.7h-1zM743 679.8h1v1.0h-1zM744 679.5h1v1.3h-1zM744 679.2h1v1.6h-1zM747 679.8h1v1.0h-1zM747 678.8h1v2.0h-1zM748 679.6h1v1.2h-1zM749 678.3h1v2.5h-1zM749 680.0h1v0.8h-1zM752 680.4h1v0.4h-1zM752 679.5h1v1.3h-1zM753 680.0h1v0.8h-1zM754 678.6h1v2.2h-1zM755 679.8h1v1.0h-1zM757 680.3h1v0.5h-1zM758 678.8h1v2.0h-1zM758 679.0h1v1.8h-1zM759 678.7h1v2.1h-1zM760 679.5h1v1.3h-1zM762 678.3h1v2.5h-1zM763 678.8h1v2.0h-1zM764 680.0h1v0.8h-1zM764 679.7h1v1.1h-1zM765 676.9h1v3.9h-1zM767 676.9h1v3.9h-1zM768 678.8h1v2.0h-1zM769 679.1h1v1.7h-1zM769 676.9h1v3.9h-1zM770 679.7h1v1.1h-1zM772 677.5h1v3.3h-1zM773 680.2h1v0.6h-1zM774 680.0h1v0.8h-1zM775 679.1h1v1.7h-1zM775 677.5h1v3.3h-1zM778 680.3h1v0.5h-1zM778 680.5h1v0.3h-1zM779 680.5h1v0.3h-1zM780 679.7h1v1.1h-1zM781 678.9h1v1.9h-1zM784 680.1h1v0.7h-1zM784 679.3h1v1.5h-1zM785 679.5h1v1.3h-1zM786 678.8h1v2.0h-1zM788 680.1h1v0.7h-1zM789 680.6h1v0.2h-1zM789 679.5h1v1.3h-1zM790 679.9h1v0.9h-1zM791 680.0h1v0.8h-1zM793 679.0h1v1.8h-1zM794 679.2h1v1.6h-1zM795 680.5h1v0.3h-1zM795 679.5h1v1.3h-1zM796 679.3h1v1.5h-1zM798 678.7h1v2.1h-1zM799 678.8h1v2.0h-1zM801 678.9h1v1.9h-1zM801 680.5h1v0.3h-1zM804 679.2h1v1.6h-1zM804 679.3h1v1.5h-1zM805 678.6h1v2.2h-1zM806 679.3h1v1.5h-1zM806 680.5h1v0.3h-1zM809 679.2h1v1.6h-1zM809 680.1h1v0.7h-1zM810 679.3h1v1.5h-1zM812 680.6h1v0.2h-1zM814 679.9h1v0.9h-1zM815 679.2h1v1.6h-1zM815 679.3h1v1.5h-1zM816 679.2h1v1.6h-1zM817 679.1h1v1.7h-1zM819 679.7h1v1.1h-1zM820 678.7h1v2.1h-1zM821 679.7h1v1.1h-1zM821 680.3h1v0.5h-1zM822 679.3h1v1.5h-1zM824 674.1h1v6.7h-1zM825 680.5h1v0.3h-1zM826 679.1h1v1.7h-1zM826 680.5h1v0.3h-1zM827 677.5h1v3.3h-1zM829 678.6h1v2.2h-1zM830 678.9h1v1.9h-1zM831 680.1h1v0.7h-1zM832 679.9h1v0.9h-1zM832 678.9h1v1.9h-1zM835 679.3h1v1.5h-1zM835 676.0h1v4.8h-1zM836 675.1h1v5.7h-1zM837 678.8h1v2.0h-1zM838 680.6h1v0.2h-1zM840 678.5h1v2.3h-1zM841 679.4h1v1.4h-1zM841 677.5h1v3.3h-1zM842 678.9h1v1.9h-1zM843 680.5h1v0.3h-1zM845 677.5h1v3.3h-1zM846 679.4h1v1.4h-1zM846 680.1h1v0.7h-1zM847 678.7h1v2.1h-1zM848 679.1h1v1.7h-1zM850 680.3h1v0.5h-1zM851 679.3h1v1.5h-1zM852 680.5h1v0.3h-1zM852 679.4h1v1.4h-1zM853 680.2h1v0.6h-1zM856 678.8h1v2.0h-1zM857 678.9h1v1.9h-1zM858 678.7h1v2.1h-1zM858 678.2h1v2.6h-1zM860 676.0h1v4.8h-1zM861 672.3h1v8.5h-1zM862 677.8h1v3.0h-1zM863 679.7h1v1.1h-1zM863 679.6h1v1.2h-1zM866 679.0h1v1.8h-1zM866 680.0h1v0.8h-1zM867 679.3h1v1.5h-1zM868 679.8h1v1.0h-1zM869 680.3h1v0.5h-1zM871 679.3h1v1.5h-1zM872 679.8h1v1.0h-1zM872 678.7h1v2.1h-1zM873 675.1h1v5.7h-1zM874 680.1h1v0.7h-1zM876 680.1h1v0.7h-1zM877 677.5h1v3.3h-1zM878 679.4h1v1.4h-1zM878 675.1h1v5.7h-1zM879 677.8h1v3.0h-1zM881 679.8h1v1.0h-1zM882 674.1h1v6.7h-1zM883 677.5h1v3.3h-1zM883 678.6h1v2.2h-1zM884 677.8h1v3.0h-1zM887 678.7h1v2.1h-1zM888 680.0h1v0.8h-1zM889 677.5h1v3.3h-1zM889 680.5h1v0.3h-1zM892 678.8h1v2.0h-1zM892 680.3h1v0.5h-1zM893 679.4h1v1.4h-1zM894 679.5h1v1.3h-1zM895 678.9h1v1.9h-1zM897 674.1h1v6.7h-1zM897 680.3h1v0.5h-1zM898 677.8h1v3.0h-1zM899 680.5h1v0.3h-1zM900 680.0h1v0.8h-1zM902 669.0h1v11.8h-1zM903 676.0h1v4.8h-1zM903 678.5h1v2.3h-1zM904 673.2h1v7.6h-1zM905 677.8h1v3.0h-1zM908 675.1h1v5.7h-1zM909 668.0h1v12.8h-1zM909 679.9h1v0.9h-1zM910 668.6h1v12.2h-1zM912 676.0h1v4.8h-1zM913 676.9h1v3.9h-1zM914 680.5h1v0.3h-1zM915 679.5h1v1.3h-1zM915 674.1h1v6.7h-1zM917 663.0h1v17.8h-1zM918 677.5h1v3.3h-1zM919 679.4h1v1.4h-1zM920 677.8h1v3.0h-1zM923 680.3h1v0.5h-1zM923 676.9h1v3.9h-1zM924 675.1h1v5.7h-1zM925 679.9h1v0.9h-1zM926 678.9h1v1.9h-1zM928 680.2h1v0.6h-1zM929 673.8h1v7.0h-1zM929 679.5h1v1.3h-1zM930 657.1h1v23.7h-1zM931 676.8h1v4.0h-1zM933 648.6h1v32.2h-1zM934 676.9h1v3.9h-1zM934 676.5h1v4.3h-1zM935 594.9h1v85.9h-1zM936 653.8h1v27.0h-1zM938 654.7h1v26.1h-1zM939 656.0h1v24.8h-1zM940 657.1h1v23.7h-1zM941 675.1h1v5.7h-1zM943 655.1h1v25.7h-1zM944 674.1h1v6.7h-1zM946 679.2h1v1.6h-1zM946 679.3h1v1.5h-1zM949 674.1h1v6.7h-1zM949 678.0h1v2.8h-1zM950 651.0h1v29.8h-1zM951 677.1h1v3.7h-1zM952 678.9h1v1.9h-1zM954 679.3h1v1.5h-1zM954 677.4h1v3.4h-1zM955 678.8h1v2.0h-1zM956 644.9h1v35.9h-1zM957 678.2h1v2.6h-1zM960 664.9h1v15.9h-1zM960 676.8h1v4.0h-1zM961 672.3h1v8.5h-1zM962 677.7h1v3.1h-1zM964 662.1h1v18.7h-1zM965 678.3h1v2.5h-1zM966 678.7h1v2.1h-1zM966 673.2h1v7.6h-1zM967 644.1h1v36.7h-1zM969 652.8h1v28.0h-1zM970 664.0h1v16.8h-1zM971 676.9h1v3.9h-1zM971 679.0h1v1.8h-1zM972 662.1h1v18.7h-1zM974 676.9h1v3.9h-1zM975 676.0h1v4.8h-1zM976 670.1h1v10.7h-1zM977 677.2h1v3.6h-1zM977 648.8h1v32.0h-1zM980 662.1h1v18.7h-1zM981 665.8h1v15.0h-1zM982 677.8h1v3.0h-1zM983 676.4h1v4.4h-1zM985 677.4h1v3.4h-1zM986 657.1h1v23.7h-1zM986 678.0h1v2.8h-1zM987 657.1h1v23.7h-1zM988 678.8h1v2.0h-1zM990 652.8h1v28.0h-1zM991 676.1h1v4.7h-1zM991 678.1h1v2.7h-1zM992 665.8h1v15.0h-1zM993 673.2h1v7.6h-1zM995 640.8h1v40.0h-1zM996 630.1h1v50.7h-1zM997 651.9h1v28.9h-1zM997 676.1h1v4.7h-1zM998 662.1h1v18.7h-1zM1000 658.4h1v22.4h-1zM1001 657.1h1v23.7h-1zM1002 678.5h1v2.3h-1zM1003 677.2h1v3.6h-1zM1003 669.0h1v11.8h-1zM1006 662.1h1v18.7h-1zM1006 676.5h1v4.3h-1zM1007 660.3h1v20.5h-1zM1008 657.1h1v23.7h-1zM1008 679.0h1v1.8h-1zM1011 652.8h1v28.0h-1zM1011 674.1h1v6.7h-1zM1012 677.1h1v3.7h-1zM1013 644.9h1v35.9h-1zM1014 678.2h1v2.6h-1zM1016 679.4h1v1.4h-1zM1017 544.6h1v136.2h-1zM1017 562.7h1v118.1h-1zM1018 675.9h1v4.9h-1zM1019 676.5h1v4.3h-1zM1021 656.0h1v24.8h-1zM1022 676.4h1v4.4h-1zM1023 648.8h1v32.0h-1zM1023 677.0h1v3.8h-1zM1024 678.6h1v2.2h-1zM1026 661.2h1v19.6h-1zM1027 653.8h1v27.0h-1zM1028 677.9h1v2.9h-1zM1028 658.4h1v22.4h-1zM1029 673.2h1v7.6h-1zM1031 660.3h1v20.5h-1zM1032 662.1h1v18.7h-1zM1033 670.8h1v10.0h-1zM1034 671.4h1v9.4h-1zM1034 676.4h1v4.4h-1zM1037 667.1h1v13.7h-1zM1037 677.7h1v3.1h-1zM1038 666.4h1v14.4h-1zM1039 678.0h1v2.8h-1zM1040 676.0h1v4.8h-1zM1042 676.5h1v4.3h-1zM1043 677.7h1v3.1h-1zM1043 664.9h1v15.9h-1zM1044 664.9h1v15.9h-1zM1045 677.6h1v3.2h-1zM1047 652.8h1v28.0h-1zM1048 671.9h1v8.9h-1zM1048 679.3h1v1.5h-1zM1049 679.4h1v1.4h-1zM1050 659.0h1v21.8h-1zM1053 678.6h1v2.2h-1zM1054 661.2h1v19.6h-1zM1054 677.8h1v3.0h-1zM1055 665.8h1v15.0h-1zM1057 672.7h1v8.1h-1zM1058 670.8h1v10.0h-1zM1059 677.4h1v3.4h-1zM1060 676.7h1v4.1h-1zM1060 677.1h1v3.7h-1zM1063 677.9h1v2.9h-1zM1063 671.0h1v9.8h-1zM1064 644.9h1v35.9h-1zM1065 669.1h1v11.7h-1zM1065 669.1h1v11.7h-1zM1068 657.9h1v22.9h-1zM1068 666.8h1v14.0h-1zM1069 667.2h1v13.6h-1zM1071 675.9h1v4.9h-1zM1073 678.5h1v2.3h-1zM1074 677.7h1v3.1h-1zM1074 658.8h1v22.0h-1zM1075 675.2h1v5.6h-1zM1076 675.9h1v4.9h-1zM1078 663.9h1v16.9h-1zM1079 663.9h1v16.9h-1zM1080 678.0h1v2.8h-1zM1080 677.2h1v3.6h-1zM1083 632.8h1v48.0h-1zM1084 666.8h1v14.0h-1zM1085 667.2h1v13.6h-1zM1085 676.1h1v4.7h-1zM1086 657.9h1v22.9h-1zM1088 678.0h1v2.8h-1zM1089 678.0h1v2.8h-1zM1090 672.8h1v8.0h-1zM1091 678.9h1v1.9h-1zM1091 678.5h1v2.3h-1zM1094 678.9h1v1.9h-1zM1094 674.7h1v6.1h-1zM1095 671.9h1v8.9h-1zM1096 679.1h1v1.7h-1zM1097 677.8h1v3.0h-1zM1099 678.6h1v2.2h-1zM1100 677.5h1v3.3h-1zM1100 674.7h1v6.1h-1zM1101 673.8h1v7.0h-1zM1102 676.1h1v4.7h-1zM1104 659.9h1v20.9h-1zM1105 676.1h1v4.7h-1zM1105 677.3h1v3.5h-1zM1106 651.8h1v29.0h-1zM1107 677.1h1v3.7h-1zM1109 676.1h1v4.7h-1zM1110 676.5h1v4.3h-1zM1111 666.8h1v14.0h-1zM1111 677.9h1v2.9h-1zM1112 658.8h1v22.0h-1zM1114 677.1h1v3.7h-1zM1115 674.0h1v6.8h-1zM1116 678.4h1v2.4h-1zM1117 677.3h1v3.5h-1zM1117 648.5h1v32.3h-1zM1119 676.5h1v4.3h-1zM1120 671.9h1v8.9h-1zM1121 671.0h1v9.8h-1z"/>
<path stroke="#b0b0b0" stroke-width="1" fill="none" d="M134.50 521.50V680.50M268.50 521.50V680.50M404.50 521.50V680.50M538.50 521.50V680.50M674.50 521.50V680.50M809.50 521.50V680.50M945.50 521.50V680.50M1079.50 521.50V680.50M86.50 680.50H1171.50M86.50 647.50H1171.50M86.50 614.50H1171.50M86.50 581.50H1171.50M86.50 547.50H1171.50"/>
</g>
<rect x="86.50" y="521.50" width="1085.00" height="159.00" fill="none" stroke="#000" stroke-width="1"/>
<path stroke="#000" stroke-width="1" d="M86.50 680.50h-4.86M86.50 647.50h-4.86M86.50 614.50h-4.86M86.50 581.50h-4.86M86.50 547.50h-4.86M134.50 680.50v4.86M268.50 680.50v4.86M404.50 680.50v4.86M538.50 680.50v4.86M674.50 680.50v4.86M809.50 680.50v4.86M945.50 680.50v4.86M1079.50 680.50v4.86"/>
<text transform="translate(75.70 684.80) scale(0.977 0.880)" text-anchor="end" style="font-size:13.89px;font-family:'WenQuanYi Zen Hei','Liberation Sans',sans-serif">0</text>
<text transform="translate(75.70 651.80) scale(0.977 0.880)" text-anchor="end" style="font-size:13.89px;font-family:'WenQuanYi Zen Hei','Liberation Sans',sans-serif">200000</text>
<text transform="translate(75.70 618.80) scale(0.977 0.880)" text-anchor="end" style="font-size:13.89px;font-family:'WenQuanYi Zen Hei','Liberation Sans',sans-serif">400000</text>
<text transform="translate(75.70 585.80) scale(0.977 0.880)" text-anchor="end" style="font-size:13.89px;font-family:'WenQuanYi Zen Hei','Liberation Sans',sans-serif">600000</text>
<text transform="translate(75.70 551.80) scale(0.977 0.880)" text-anchor="end" style="font-size:13.89px;font-family:'WenQuanYi Zen Hei','Liberation Sans',sans-serif">800000</text>
<text transform="translate(134.50 698.70) scale(0.977 0.880)" text-anchor="middle" style="font-size:13.89px;font-family:'WenQuanYi Zen Hei','Liberation Sans',sans-serif">2022-01</text>
<text transform="translate(268.50 698.70) scale(0.977 0.880)" text-anchor="middle" style="font-size:13.89px;font-family:'WenQuanYi Zen Hei','Liberation Sans',sans-serif">2022-07</text>
<text transform="translate(404.50 698.70) scale(0.977 0.880)" text-anchor="middle" style="font-size:13.89px;font-family:'WenQuanYi Zen Hei','Liberation Sans',sans-serif">2023-01</text>
<text transform="translate(538.50 698.70) scale(0.977 0.880)" text-anchor="middle" style="font-size:13.89px;font-family:'WenQuanYi Zen Hei','Liberation Sans',sans-serif">2023-07</text>
<text transform="translate(674.50 698.70) scale(0.977 0.880)" text-anchor="middle" style="font-size:13.89px;font-family:'WenQuanYi Zen Hei','Liberation Sans',sans-serif">2024-01</text>
<text transform="translate(809.50 698.70) scale(0.977 0.880)" text-anchor="middle" style="font-size:13.89px;font-family:'WenQuanYi Zen Hei','Liberation Sans',sans-serif">2024-07</text>
<text transform="translate(945.50 698.70) scale(0.977 0.880)" text-anchor="middle" style="font-size:13.89px;font-family:'WenQuanYi Zen Hei','Liberation Sans',sans-serif">2025-01</text>
<text transform="translate(1079.50 698.70) scale(0.977 0.880)" text-anchor="middle" style="font-size:13.89px;font-family:'WenQuanYi Zen Hei','Liberation Sans',sans-serif">2025-07</text>
<text transform="translate(18.10 602.20) rotate(-90) scale(0.990 0.910)" text-anchor="middle" style="font-size:13.89px;font-family:'WenQuanYi Zen Hei','Liberation Sans',sans-serif">Volume</text>
<text transform="translate(86.00 737.00)" style="font-size:16.67px;white-space:pre;font-family:'WenQuanYi Zen Hei','Liberation Sans',sans-serif">FNDX 交易次数: 2</text>
<text transform="translate(86.00 756.70)" style="font-size:16.67px;white-space:pre;font-family:'WenQuanYi Zen Hei','Liberation Sans',sans-serif">策略总收益率: 50.00%</text>
<text transform="translate(86.00 777.10)" style="font-size:16.67px;white-space:pre;font-family:'WenQuanYi Zen Hei','Liberation Sans',sans-serif">长期持有收益: 46.78%</text>
<text transform="translate(86.00 813.60)" style="font-size:16.67px;white-space:pre;font-family:'WenQuanYi Zen Hei','Liberation Sans',sans-serif">交易记录:</text>
<text transform="translate(86.00 830.10)" style="font-size:16.67px;white-space:pre;font-family:'WenQuanYi Zen Hei','Liberation Sans',sans-serif">  Buy Date  Buy Price  Sell Date  Sell Price  Holding Days  Profit %</text>
<text transform="translate(86.00 848.20)" style="font-size:16.67px;white-space:pre;font-family:'WenQuanYi Zen Hei','Liberation Sans',sans-serif">2022-03-15      17.54 2024-04-10       21.46           757     22.35</text>
<text transform="translate(86.00 864.50)" style="font-size:16.67px;white-space:pre;font-family:'WenQuanYi Zen Hei','Liberation Sans',sans-serif">2024-04-15      21.00 2025-08-27       25.74           499     22.60</text>
</svg>
</body></html>
